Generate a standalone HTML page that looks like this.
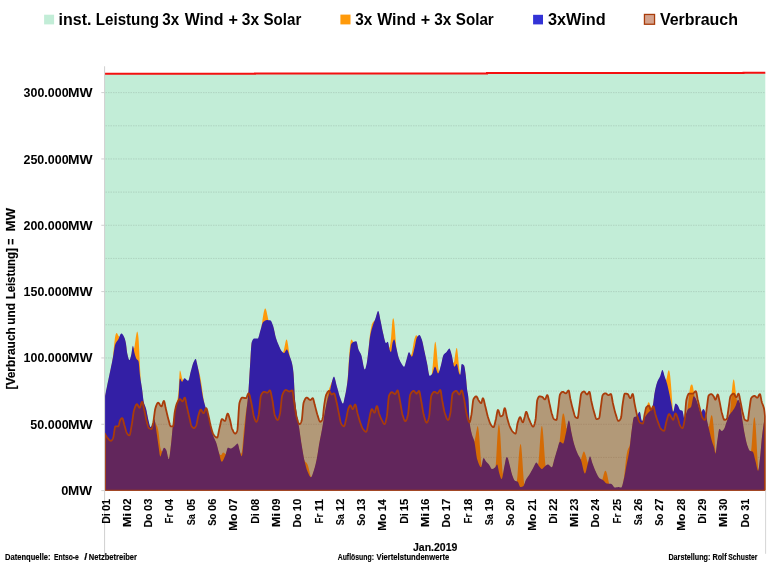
<!DOCTYPE html>
<html lang="de"><head><meta charset="utf-8"><title>Jan.2019 – 3x Wind + 3x Solar</title>
<style>html,body{margin:0;padding:0;background:#fff}body{width:771px;height:567px;overflow:hidden}svg{display:block}text{font-family:"Liberation Sans",Arial,sans-serif;font-weight:bold;fill:#000}</style></head><body>
<svg width="771" height="567" viewBox="0 0 771 567">
<rect width="771" height="567" fill="#fff"/>
<polygon fill="#c2edd7" points="105,490.6 105,73.8 255,73.8 255,73.5 487,73.5 487,73.1 743.5,73.1 743.5,72.7 765.3,72.7 765.3,490.6"/>
<line x1="105.5" x2="765" y1="457.44" y2="457.44" stroke="#6f8078" stroke-opacity="0.26" stroke-width="0.9" stroke-dasharray="1.5 1"/>
<line x1="105.5" x2="765" y1="424.27" y2="424.27" stroke="#6f8078" stroke-opacity="0.26" stroke-width="0.9" stroke-dasharray="1.5 1"/>
<line x1="105.5" x2="765" y1="391.11" y2="391.11" stroke="#6f8078" stroke-opacity="0.26" stroke-width="0.9" stroke-dasharray="1.5 1"/>
<line x1="105.5" x2="765" y1="357.94" y2="357.94" stroke="#6f8078" stroke-opacity="0.26" stroke-width="0.9" stroke-dasharray="1.5 1"/>
<line x1="105.5" x2="765" y1="324.78" y2="324.78" stroke="#6f8078" stroke-opacity="0.26" stroke-width="0.9" stroke-dasharray="1.5 1"/>
<line x1="105.5" x2="765" y1="291.61" y2="291.61" stroke="#6f8078" stroke-opacity="0.26" stroke-width="0.9" stroke-dasharray="1.5 1"/>
<line x1="105.5" x2="765" y1="258.45" y2="258.45" stroke="#6f8078" stroke-opacity="0.26" stroke-width="0.9" stroke-dasharray="1.5 1"/>
<line x1="105.5" x2="765" y1="225.28" y2="225.28" stroke="#6f8078" stroke-opacity="0.26" stroke-width="0.9" stroke-dasharray="1.5 1"/>
<line x1="105.5" x2="765" y1="192.12" y2="192.12" stroke="#6f8078" stroke-opacity="0.26" stroke-width="0.9" stroke-dasharray="1.5 1"/>
<line x1="105.5" x2="765" y1="158.95" y2="158.95" stroke="#6f8078" stroke-opacity="0.26" stroke-width="0.9" stroke-dasharray="1.5 1"/>
<line x1="105.5" x2="765" y1="125.79" y2="125.79" stroke="#6f8078" stroke-opacity="0.26" stroke-width="0.9" stroke-dasharray="1.5 1"/>
<line x1="105.5" x2="765" y1="92.62" y2="92.62" stroke="#6f8078" stroke-opacity="0.26" stroke-width="0.9" stroke-dasharray="1.5 1"/>
<polygon fill="#ff9a0a" points="105.00,490.6 105.00,396.90 105.25,395.67 105.50,394.45 105.75,393.22 106.00,392.00 106.25,390.77 106.50,389.55 106.75,388.33 107.00,387.11 107.25,385.90 107.50,384.70 107.75,383.50 108.00,382.30 108.25,381.11 108.50,379.92 108.75,378.73 109.00,377.55 109.25,376.36 109.50,375.17 109.75,373.98 110.00,372.79 110.25,371.60 110.50,370.40 110.75,369.19 111.00,367.98 111.25,366.76 111.50,365.53 111.75,364.30 112.00,363.05 112.25,361.66 112.50,359.99 112.75,358.14 113.00,356.04 113.25,353.73 113.50,351.27 113.75,348.75 114.00,346.23 114.25,343.79 114.50,341.49 114.75,339.41 115.00,337.60 115.25,336.13 115.50,335.04 115.75,334.22 116.00,333.63 116.25,333.25 116.50,333.08 116.75,333.09 117.00,333.27 117.25,333.58 117.50,334.00 117.75,334.49 118.00,335.02 118.25,335.53 118.50,335.98 118.75,336.33 119.00,336.59 119.25,336.72 119.50,336.72 119.75,336.57 120.00,336.23 120.25,335.71 120.50,335.24 120.75,334.86 121.00,334.58 121.25,334.43 121.50,334.41 121.75,334.49 122.00,334.65 122.25,334.87 122.50,335.16 122.75,335.49 123.00,335.85 123.25,336.24 123.50,336.64 123.75,337.06 124.00,337.55 124.25,338.12 124.50,338.78 124.75,339.52 125.00,340.34 125.25,341.24 125.50,342.22 125.75,343.28 126.00,344.63 126.25,346.54 126.50,348.73 126.75,350.94 127.00,352.86 127.25,354.23 127.50,355.37 127.75,356.49 128.00,357.55 128.25,358.52 128.50,359.37 128.75,360.07 129.00,360.57 129.25,360.85 129.50,360.87 129.75,360.60 130.00,360.07 130.25,359.35 130.50,358.49 130.75,357.54 131.00,356.56 131.25,355.60 131.50,354.29 131.75,352.62 132.00,350.82 132.25,349.10 132.50,347.71 132.75,346.86 133.00,346.76 133.25,347.38 133.50,348.22 133.75,348.60 134.00,348.54 134.25,347.96 134.50,346.78 134.75,345.15 135.00,343.37 135.25,341.52 135.50,339.66 135.75,337.86 136.00,336.19 136.25,334.68 136.50,333.40 136.75,332.41 137.00,331.80 137.25,331.61 137.50,331.89 137.75,332.67 138.00,333.96 138.25,335.77 138.50,338.08 138.75,341.46 139.00,346.14 139.25,351.61 139.50,357.36 139.75,362.85 140.00,367.63 140.25,371.95 140.50,375.88 140.75,379.36 141.00,382.32 141.25,384.65 141.50,386.26 141.75,387.83 142.00,389.49 142.25,391.27 142.50,393.36 142.75,395.64 143.00,397.93 143.25,400.02 143.50,401.69 143.75,402.85 144.00,403.79 144.25,404.60 144.50,405.30 144.75,405.94 145.00,406.54 145.25,407.16 145.50,407.81 145.75,408.55 146.00,409.40 146.25,410.40 146.50,411.52 146.75,412.74 147.00,414.03 147.25,415.35 147.50,416.68 147.75,417.97 148.00,419.22 148.25,420.37 148.50,421.40 148.75,422.42 149.00,423.50 149.25,424.58 149.50,425.61 149.75,426.52 150.00,427.25 150.25,427.73 150.50,427.90 150.75,427.83 151.00,427.62 151.25,427.30 151.50,426.90 151.75,426.44 152.00,425.93 152.25,425.41 152.50,424.90 152.75,424.24 153.00,423.36 153.25,422.37 153.50,421.41 153.75,420.59 154.00,420.05 154.25,419.91 154.50,420.29 154.75,421.06 155.00,421.81 155.25,422.57 155.50,423.31 155.75,423.98 156.00,424.57 156.25,425.01 156.50,425.28 156.75,425.52 157.00,425.92 157.25,426.50 157.50,427.25 157.75,428.17 158.00,429.27 158.25,430.53 158.50,431.93 158.75,433.66 159.00,435.81 159.25,438.23 159.50,440.73 159.75,443.16 160.00,445.33 160.25,447.05 160.50,448.26 160.75,449.19 161.00,449.91 161.25,450.45 161.50,450.87 161.75,451.22 162.00,451.54 162.25,451.71 162.50,451.54 162.75,450.97 163.00,450.32 163.25,449.74 163.50,449.25 163.75,448.90 164.00,448.72 164.25,448.72 164.50,448.80 164.75,448.96 165.00,449.19 165.25,449.46 165.50,449.77 165.75,450.12 166.00,450.49 166.25,450.89 166.50,451.53 166.75,452.46 167.00,453.60 167.25,454.85 167.50,456.14 167.75,457.37 168.00,458.46 168.25,459.32 168.50,459.86 168.75,459.99 169.00,459.60 169.25,458.72 169.50,457.42 169.75,455.79 170.00,453.90 170.25,451.83 170.50,449.66 170.75,447.46 171.00,445.32 171.25,443.19 171.50,440.68 171.75,437.91 172.00,435.06 172.25,432.29 172.50,429.79 172.75,427.63 173.00,425.57 173.25,423.58 173.50,421.66 173.75,419.84 174.00,418.11 174.25,416.50 174.50,415.01 174.75,413.65 175.00,412.44 175.25,411.33 175.50,410.32 175.75,409.38 176.00,408.45 176.25,407.32 176.50,406.01 176.75,404.53 177.00,402.90 177.25,401.13 177.50,399.36 177.75,397.60 178.00,395.75 178.25,393.72 178.50,391.28 178.75,387.42 179.00,382.61 179.25,377.71 179.50,373.52 179.75,370.89 180.00,370.43 180.25,370.75 180.50,371.40 180.75,372.29 181.00,373.37 181.25,374.56 181.50,375.77 181.75,376.94 182.00,377.97 182.25,378.79 182.50,379.37 182.75,379.75 183.00,379.95 183.25,380.00 183.50,379.91 183.75,379.71 184.00,379.39 184.25,379.14 184.50,379.11 184.75,379.16 185.00,379.28 185.25,379.44 185.50,379.63 185.75,379.86 186.00,380.10 186.25,380.35 186.50,380.60 186.75,380.84 187.00,381.07 187.25,381.26 187.50,381.42 187.75,381.54 188.00,381.59 188.25,381.54 188.50,381.22 188.75,380.63 189.00,379.85 189.25,378.90 189.50,377.84 189.75,376.70 190.00,375.54 190.25,374.41 190.50,373.33 190.75,372.37 191.00,371.50 191.25,370.58 191.50,369.64 191.75,368.69 192.00,367.74 192.25,366.82 192.50,365.93 192.75,365.10 193.00,364.34 193.25,363.67 193.50,363.10 193.75,362.58 194.00,362.05 194.25,361.54 194.50,361.06 194.75,360.64 195.00,360.28 195.25,360.01 195.50,359.84 195.75,359.81 196.00,360.20 196.25,361.01 196.50,362.09 196.75,363.30 197.00,364.47 197.25,365.52 197.50,366.47 197.75,367.35 198.00,368.20 198.25,369.02 198.50,369.84 198.75,370.66 199.00,371.51 199.25,372.43 199.50,373.45 199.75,374.57 200.00,375.76 200.25,377.03 200.50,378.36 200.75,379.73 201.00,381.17 201.25,382.75 201.50,384.43 201.75,386.21 202.00,388.04 202.25,389.90 202.50,391.75 202.75,393.55 203.00,395.27 203.25,396.89 203.50,398.45 203.75,399.95 204.00,401.37 204.25,402.71 204.50,403.96 204.75,405.11 205.00,406.15 205.25,407.04 205.50,407.83 205.75,408.56 206.00,409.25 206.25,409.90 206.50,410.53 206.75,411.15 207.00,411.78 207.25,412.42 207.50,413.08 207.75,413.79 208.00,414.55 208.25,415.37 208.50,416.28 208.75,417.33 209.00,418.51 209.25,419.80 209.50,421.15 209.75,422.54 210.00,423.94 210.25,425.30 210.50,426.61 210.75,427.82 211.00,428.90 211.25,429.89 211.50,430.86 211.75,431.79 212.00,432.69 212.25,433.55 212.50,434.39 212.75,435.19 213.00,435.96 213.25,436.70 213.50,437.40 213.75,438.06 214.00,438.66 214.25,439.22 214.50,439.75 214.75,440.27 215.00,440.78 215.25,441.31 215.50,441.85 215.75,442.43 216.00,443.06 216.25,443.74 216.50,444.51 216.75,445.34 217.00,446.24 217.25,447.17 217.50,448.14 217.75,449.13 218.00,450.12 218.25,451.10 218.50,452.05 218.75,452.80 219.00,453.29 219.25,453.71 219.50,454.08 219.75,454.41 220.00,454.68 220.25,454.89 220.50,455.03 220.75,455.08 221.00,455.04 221.25,454.90 221.50,454.64 221.75,454.24 222.00,453.81 222.25,453.43 222.50,453.11 222.75,452.86 223.00,452.68 223.25,452.59 223.50,452.58 223.75,452.64 224.00,452.77 224.25,452.95 224.50,453.17 224.75,453.42 225.00,453.67 225.25,453.91 225.50,454.05 225.75,453.95 226.00,453.62 226.25,453.07 226.50,452.28 226.75,451.34 227.00,450.47 227.25,449.72 227.50,449.13 227.75,448.74 228.00,448.60 228.25,448.62 228.50,448.67 228.75,448.75 229.00,448.85 229.25,448.96 229.50,449.07 229.75,449.17 230.00,449.27 230.25,449.34 230.50,449.39 230.75,449.40 231.00,449.37 231.25,449.32 231.50,449.23 231.75,449.12 232.00,448.98 232.25,448.83 232.50,448.66 232.75,448.47 233.00,448.28 233.25,448.08 233.50,447.88 233.75,447.68 234.00,447.49 234.25,447.31 234.50,447.13 234.75,446.92 235.00,446.69 235.25,446.43 235.50,446.16 235.75,445.89 236.00,445.62 236.25,445.36 236.50,445.12 236.75,444.91 237.00,444.73 237.25,444.60 237.50,444.52 237.75,444.51 238.00,444.84 238.25,445.56 238.50,446.54 238.75,447.68 239.00,448.86 239.25,449.97 239.50,450.90 239.75,451.75 240.00,452.55 240.25,453.14 240.50,453.56 240.75,453.78 241.00,453.79 241.25,453.56 241.50,453.08 241.75,452.31 242.00,450.93 242.25,448.88 242.50,446.32 242.75,443.40 243.00,440.27 243.25,437.06 243.50,433.91 243.75,430.96 244.00,428.34 244.25,426.08 244.50,423.84 244.75,421.61 245.00,419.43 245.25,417.31 245.50,415.27 245.75,413.32 246.00,411.48 246.25,409.76 246.50,408.19 246.75,406.75 247.00,405.34 247.25,403.82 247.50,402.08 247.75,399.98 248.00,397.42 248.25,394.48 248.50,391.04 248.75,387.21 249.00,383.14 249.25,378.95 249.50,374.78 249.75,370.77 250.00,366.97 250.25,362.80 250.50,358.36 250.75,353.96 251.00,349.92 251.25,346.54 251.50,344.13 251.75,342.96 252.00,342.30 252.25,341.70 252.50,341.16 252.75,340.70 253.00,340.31 253.25,339.99 253.50,339.75 253.75,339.58 254.00,339.51 254.25,339.50 254.50,339.50 254.75,339.50 255.00,339.50 255.25,339.50 255.50,339.50 255.75,339.50 256.00,339.50 256.25,339.50 256.50,339.50 256.75,339.50 257.00,339.50 257.25,339.50 257.50,339.50 257.75,339.49 258.00,339.31 258.25,338.89 258.50,338.27 258.75,337.50 259.00,336.61 259.25,335.65 259.50,334.64 259.75,333.63 260.00,332.67 260.25,331.78 260.50,330.99 260.75,330.16 261.00,329.27 261.25,328.21 261.50,326.81 261.75,325.18 262.00,323.42 262.25,321.59 262.50,319.76 262.75,318.00 263.00,316.38 263.25,314.92 263.50,313.55 263.75,312.29 264.00,311.16 264.25,310.21 264.50,309.45 264.75,308.90 265.00,308.57 265.25,308.47 265.50,308.60 265.75,308.96 266.00,309.52 266.25,310.27 266.50,311.20 266.75,312.26 267.00,313.42 267.25,314.63 267.50,315.85 267.75,317.05 268.00,318.17 268.25,319.18 268.50,320.04 268.75,320.69 269.00,321.08 269.25,321.14 269.50,321.17 269.75,321.20 270.00,321.24 270.25,321.28 270.50,321.33 270.75,321.49 271.00,321.77 271.25,322.16 271.50,322.63 271.75,323.18 272.00,323.79 272.25,324.44 272.50,325.13 272.75,325.83 273.00,326.52 273.25,327.24 273.50,328.10 273.75,329.08 274.00,330.17 274.25,331.32 274.50,332.52 274.75,333.72 275.00,334.91 275.25,336.05 275.50,337.12 275.75,338.08 276.00,338.92 276.25,339.71 276.50,340.45 276.75,341.17 277.00,341.86 277.25,342.53 277.50,343.17 277.75,343.79 278.00,344.40 278.25,344.99 278.50,345.57 278.75,346.15 279.00,346.73 279.25,347.31 279.50,347.90 279.75,348.47 280.00,349.03 280.25,349.57 280.50,350.09 280.75,350.58 281.00,351.03 281.25,351.45 281.50,351.82 281.75,352.14 282.00,352.43 282.25,352.72 282.50,352.93 282.75,352.83 283.00,352.49 283.25,351.95 283.50,351.24 283.75,350.39 284.00,349.41 284.25,348.30 284.50,347.06 284.75,345.76 285.00,344.45 285.25,343.20 285.50,342.06 285.75,341.08 286.00,340.31 286.25,339.78 286.50,339.54 286.75,339.61 287.00,340.03 287.25,340.79 287.50,341.85 287.75,343.17 288.00,344.69 288.25,346.37 288.50,348.14 288.75,349.95 289.00,351.73 289.25,353.44 289.50,354.99 289.75,356.37 290.00,357.57 290.25,358.55 290.50,359.25 290.75,359.92 291.00,360.62 291.25,361.37 291.50,362.18 291.75,363.07 292.00,364.05 292.25,365.13 292.50,366.39 292.75,367.88 293.00,369.63 293.25,371.66 293.50,374.00 293.75,377.35 294.00,381.97 294.25,387.19 294.50,392.37 294.75,396.83 295.00,400.06 295.25,402.74 295.50,405.17 295.75,407.37 296.00,409.40 296.25,411.29 296.50,413.10 296.75,414.85 297.00,416.48 297.25,418.00 297.50,419.42 297.75,420.78 298.00,422.12 298.25,423.46 298.50,424.83 298.75,426.28 299.00,427.83 299.25,429.47 299.50,431.18 299.75,432.93 300.00,434.71 300.25,436.50 300.50,438.27 300.75,440.01 301.00,441.69 301.25,443.29 301.50,444.83 301.75,446.37 302.00,447.91 302.25,449.43 302.50,450.94 302.75,452.42 303.00,453.88 303.25,455.31 303.50,456.70 303.75,458.01 304.00,459.07 304.25,459.91 304.50,460.57 304.75,461.07 305.00,461.43 305.25,461.71 305.50,461.95 305.75,462.17 306.00,462.38 306.25,462.61 306.50,462.86 306.75,463.16 307.00,463.51 307.25,463.92 307.50,464.40 307.75,464.95 308.00,465.64 308.25,466.46 308.50,467.40 308.75,468.43 309.00,469.53 309.25,470.68 309.50,471.84 309.75,472.99 310.00,474.08 310.25,475.10 310.50,476.00 310.75,476.74 311.00,477.30 311.25,477.59 311.50,477.59 311.75,477.26 312.00,476.75 312.25,476.15 312.50,475.47 312.75,474.74 313.00,473.96 313.25,473.16 313.50,472.36 313.75,471.57 314.00,470.80 314.25,470.02 314.50,469.19 314.75,468.30 315.00,467.36 315.25,466.38 315.50,465.35 315.75,464.28 316.00,463.17 316.25,462.03 316.50,460.86 316.75,459.66 317.00,458.36 317.25,456.96 317.50,455.47 317.75,453.92 318.00,452.33 318.25,450.71 318.50,449.10 318.75,447.50 319.00,445.95 319.25,444.46 319.50,443.04 319.75,441.69 320.00,440.37 320.25,439.08 320.50,437.81 320.75,436.55 321.00,435.29 321.25,434.03 321.50,432.75 321.75,431.44 322.00,430.10 322.25,428.72 322.50,427.27 322.75,425.77 323.00,424.22 323.25,422.65 323.50,421.06 323.75,419.48 324.00,417.92 324.25,416.40 324.50,414.92 324.75,413.51 325.00,412.16 325.25,410.71 325.50,409.14 325.75,407.50 326.00,405.82 326.25,404.10 326.50,402.38 326.75,400.69 327.00,399.03 327.25,397.43 327.50,395.91 327.75,394.49 328.00,393.21 328.25,392.05 328.50,391.01 328.75,390.07 329.00,389.24 329.25,388.48 329.50,387.78 329.75,387.09 330.00,386.41 330.25,385.73 330.50,385.07 330.75,384.42 331.00,383.79 331.25,383.18 331.50,382.57 331.75,381.98 332.00,381.39 332.25,380.81 332.50,380.22 332.75,379.62 333.00,378.99 333.25,378.41 333.50,377.97 333.75,377.69 334.00,377.60 334.25,377.75 334.50,378.17 334.75,378.81 335.00,379.63 335.25,380.60 335.50,381.65 335.75,382.76 336.00,383.88 336.25,384.97 336.50,385.98 336.75,386.87 337.00,387.73 337.25,388.62 337.50,389.52 337.75,390.44 338.00,391.35 338.25,392.27 338.50,393.18 338.75,394.07 339.00,394.94 339.25,395.78 339.50,396.60 339.75,397.37 340.00,398.10 340.25,398.77 340.50,399.42 340.75,400.11 341.00,400.81 341.25,401.51 341.50,402.18 341.75,402.80 342.00,403.36 342.25,403.83 342.50,404.19 342.75,404.42 343.00,404.50 343.25,404.24 343.50,403.54 343.75,402.53 344.00,401.33 344.25,400.08 344.50,398.90 344.75,397.79 345.00,396.67 345.25,395.53 345.50,394.34 345.75,393.10 346.00,391.80 346.25,390.43 346.50,388.84 346.75,387.02 347.00,384.98 347.25,382.75 347.50,380.32 347.75,377.57 348.00,374.07 348.25,370.03 348.50,365.71 348.75,361.40 349.00,357.36 349.25,353.87 349.50,351.10 349.75,348.53 350.00,346.11 350.25,343.93 350.50,342.10 350.75,340.70 351.00,339.84 351.25,339.60 351.50,339.64 351.75,339.79 352.00,340.03 352.25,340.33 352.50,340.69 352.75,341.06 353.00,341.45 353.25,341.81 353.50,342.13 353.75,342.39 354.00,342.56 354.25,342.59 354.50,342.51 354.75,342.44 355.00,342.38 355.25,342.32 355.50,342.27 355.75,342.23 356.00,342.21 356.25,342.20 356.50,342.35 356.75,342.90 357.00,343.76 357.25,344.85 357.50,346.08 357.75,347.33 358.00,348.54 358.25,349.59 358.50,350.40 358.75,351.02 359.00,351.56 359.25,352.05 359.50,352.50 359.75,352.93 360.00,353.35 360.25,353.78 360.50,354.24 360.75,354.74 361.00,355.30 361.25,355.94 361.50,356.75 361.75,357.75 362.00,358.90 362.25,360.17 362.50,361.50 362.75,362.87 363.00,364.23 363.25,365.55 363.50,366.78 363.75,367.89 364.00,368.83 364.25,369.58 364.50,370.07 364.75,370.29 365.00,370.20 365.25,369.82 365.50,369.20 365.75,368.39 366.00,367.44 366.25,366.41 366.50,365.33 366.75,364.18 367.00,362.70 367.25,360.93 367.50,358.94 367.75,356.74 368.00,354.35 368.25,351.90 368.50,349.47 368.75,346.94 369.00,344.23 369.25,341.47 369.50,338.80 369.75,336.36 370.00,334.29 370.25,332.53 370.50,330.92 370.75,329.46 371.00,328.15 371.25,326.98 371.50,325.95 371.75,325.06 372.00,324.28 372.25,323.62 372.50,323.05 372.75,322.56 373.00,322.16 373.25,321.84 373.50,321.59 373.75,321.38 374.00,321.20 374.25,321.01 374.50,320.80 374.75,320.54 375.00,320.21 375.25,319.79 375.50,319.22 375.75,318.45 376.00,317.60 376.25,316.71 376.50,315.80 376.75,314.92 377.00,314.10 377.25,313.35 377.50,312.73 377.75,312.26 378.00,311.97 378.25,311.91 378.50,312.19 378.75,312.81 379.00,313.71 379.25,314.83 379.50,316.10 379.75,317.44 380.00,318.80 380.25,320.11 380.50,321.30 380.75,322.45 381.00,323.66 381.25,324.92 381.50,326.21 381.75,327.52 382.00,328.81 382.25,330.08 382.50,331.32 382.75,332.49 383.00,333.59 383.25,334.62 383.50,335.72 383.75,336.87 384.00,338.03 384.25,339.17 384.50,340.26 384.75,341.27 385.00,342.17 385.25,342.92 385.50,343.50 385.75,343.87 386.00,344.00 386.25,343.93 386.50,343.75 386.75,343.51 387.00,343.24 387.25,342.99 387.50,342.80 387.75,342.70 388.00,342.91 388.25,343.67 388.50,344.83 388.75,346.22 389.00,347.40 389.25,347.86 389.50,347.59 389.75,346.65 390.00,345.43 390.25,343.97 390.50,342.28 390.75,340.35 391.00,338.13 391.25,335.27 391.50,331.97 391.75,328.52 392.00,325.22 392.25,322.35 392.50,320.19 392.75,318.98 393.00,318.41 393.25,318.27 393.50,318.58 393.75,319.36 394.00,320.62 394.25,322.34 394.50,324.63 394.75,327.44 395.00,330.61 395.25,334.00 395.50,337.44 395.75,340.78 396.00,343.87 396.25,346.54 396.50,348.72 396.75,350.46 397.00,351.63 397.25,352.76 397.50,353.89 397.75,354.99 398.00,356.03 398.25,357.01 398.50,357.88 398.75,358.64 399.00,359.34 399.25,359.99 399.50,360.61 399.75,361.20 400.00,361.76 400.25,362.28 400.50,362.77 400.75,363.24 401.00,363.67 401.25,364.08 401.50,364.49 401.75,364.92 402.00,365.34 402.25,365.76 402.50,366.15 402.75,366.52 403.00,366.85 403.25,367.13 403.50,367.36 403.75,367.51 404.00,367.59 404.25,367.54 404.50,367.23 404.75,366.67 405.00,365.94 405.25,365.08 405.50,364.15 405.75,363.20 406.00,362.28 406.25,361.45 406.50,360.67 406.75,359.77 407.00,358.80 407.25,357.79 407.50,356.79 407.75,355.83 408.00,354.95 408.25,354.20 408.50,353.62 408.75,353.24 409.00,353.10 409.25,353.20 409.50,353.48 409.75,353.90 410.00,354.41 410.25,354.92 410.50,355.18 410.75,355.24 411.00,355.09 411.25,354.74 411.50,354.17 411.75,353.39 412.00,352.37 412.25,351.11 412.50,349.67 412.75,348.11 413.00,346.51 413.25,344.91 413.50,343.37 413.75,341.95 414.00,340.68 414.25,339.62 414.50,338.80 414.75,338.09 415.00,337.38 415.25,336.71 415.50,336.12 415.75,335.65 416.00,335.33 416.25,335.18 416.50,335.23 416.75,335.52 417.00,335.96 417.25,336.33 417.50,336.62 417.75,336.78 418.00,336.77 418.25,336.54 418.50,336.30 418.75,336.11 419.00,335.98 419.25,335.91 419.50,335.91 419.75,336.05 420.00,336.31 420.25,336.69 420.50,337.16 420.75,337.70 421.00,338.31 421.25,338.95 421.50,339.61 421.75,340.27 422.00,340.97 422.25,341.80 422.50,342.76 422.75,343.81 423.00,344.94 423.25,346.13 423.50,347.35 423.75,348.59 424.00,349.83 424.25,351.04 424.50,352.20 424.75,353.34 425.00,354.49 425.25,355.64 425.50,356.81 425.75,357.98 426.00,359.17 426.25,360.35 426.50,361.54 426.75,362.74 427.00,363.94 427.25,365.15 427.50,366.51 427.75,368.05 428.00,369.67 428.25,371.30 428.50,372.85 428.75,374.24 429.00,375.40 429.25,376.23 429.50,376.66 429.75,376.69 430.00,376.64 430.25,376.54 430.50,376.40 430.75,376.22 431.00,376.02 431.25,375.79 431.50,375.44 431.75,374.40 432.00,372.82 432.25,370.79 432.50,368.28 432.75,365.38 433.00,362.22 433.25,358.93 433.50,355.64 433.75,352.47 434.00,349.53 434.25,346.93 434.50,344.77 434.75,343.15 435.00,342.14 435.25,341.80 435.50,342.10 435.75,343.00 436.00,344.45 436.25,346.38 436.50,348.72 436.75,351.37 437.00,354.23 437.25,357.21 437.50,360.19 437.75,363.04 438.00,365.66 438.25,367.91 438.50,369.73 438.75,371.08 439.00,371.88 439.25,372.06 439.50,371.45 439.75,370.55 440.00,369.62 440.25,368.67 440.50,367.75 440.75,366.87 441.00,365.98 441.25,364.95 441.50,363.82 441.75,362.62 442.00,361.39 442.25,360.18 442.50,359.02 442.75,357.97 443.00,357.05 443.25,356.32 443.50,355.80 443.75,355.44 444.00,355.12 444.25,354.85 444.50,354.61 444.75,354.39 445.00,354.19 445.25,354.00 445.50,353.81 445.75,353.61 446.00,353.39 446.25,353.15 446.50,352.87 446.75,352.55 447.00,352.19 447.25,351.81 447.50,351.43 447.75,351.04 448.00,350.67 448.25,350.34 448.50,350.04 448.75,349.80 449.00,349.62 449.25,349.52 449.50,349.52 449.75,349.74 450.00,350.18 450.25,350.78 450.50,351.53 450.75,352.37 451.00,353.27 451.25,354.20 451.50,355.11 451.75,355.97 452.00,357.00 452.25,358.24 452.50,359.62 452.75,361.05 453.00,362.07 453.25,362.67 453.50,362.86 453.75,362.63 454.00,361.98 454.25,360.89 454.50,359.36 454.75,357.64 455.00,355.85 455.25,354.08 455.50,352.40 455.75,350.90 456.00,349.64 456.25,348.69 456.50,348.10 456.75,347.91 457.00,348.29 457.25,349.42 457.50,351.18 457.75,353.43 458.00,356.01 458.25,358.78 458.50,361.56 458.75,364.21 459.00,366.54 459.25,368.64 459.50,370.65 459.75,372.45 460.00,373.92 460.25,374.91 460.50,374.46 460.75,372.48 461.00,369.81 461.25,367.25 461.50,365.43 461.75,364.90 462.00,364.93 462.25,364.98 462.50,365.08 462.75,365.20 463.00,365.36 463.25,365.55 463.50,365.76 463.75,366.01 464.00,366.28 464.25,366.68 464.50,367.57 464.75,368.88 465.00,370.51 465.25,372.34 465.50,374.27 465.75,376.19 466.00,378.50 466.25,381.23 466.50,384.12 466.75,386.94 467.00,389.44 467.25,391.41 467.50,392.92 467.75,394.25 468.00,395.69 468.25,397.51 468.50,400.20 468.75,405.30 469.00,411.74 469.25,417.80 469.50,421.80 469.75,424.05 470.00,426.00 470.25,427.69 470.50,429.16 470.75,430.46 471.00,431.62 471.25,432.68 471.50,433.70 471.75,434.70 472.00,435.61 472.25,436.42 472.50,437.14 472.75,437.81 473.00,438.44 473.25,439.08 473.50,439.73 473.75,440.44 474.00,441.21 474.25,441.32 474.50,440.75 474.75,439.87 475.00,438.78 475.25,437.53 475.50,436.16 475.75,434.74 476.00,433.28 476.25,431.85 476.50,430.46 476.75,429.14 477.00,427.91 477.25,426.85 477.50,426.25 477.75,426.19 478.00,426.69 478.25,427.76 478.50,429.37 478.75,431.49 479.00,434.08 479.25,437.06 479.50,440.37 479.75,443.90 480.00,447.57 480.25,451.26 480.50,454.85 480.75,458.23 481.00,461.28 481.25,463.79 481.50,465.33 481.75,465.85 482.00,465.22 482.25,463.83 482.50,462.42 482.75,461.11 483.00,460.02 483.25,459.28 483.50,459.00 483.75,459.06 484.00,459.24 484.25,459.50 484.50,459.84 484.75,460.24 485.00,460.67 485.25,461.11 485.50,461.55 485.75,461.97 486.00,462.34 486.25,462.66 486.50,462.94 486.75,463.20 487.00,463.45 487.25,463.70 487.50,463.94 487.75,464.18 488.00,464.43 488.25,464.68 488.50,464.94 488.75,465.22 489.00,465.53 489.25,465.89 489.50,466.31 489.75,466.77 490.00,467.25 490.25,467.74 490.50,468.21 490.75,468.66 491.00,469.06 491.25,469.40 491.50,469.67 491.75,469.84 492.00,469.90 492.25,469.89 492.50,469.84 492.75,469.77 493.00,469.68 493.25,469.57 493.50,469.43 493.75,469.28 494.00,469.12 494.25,468.94 494.50,468.75 494.75,468.55 495.00,468.35 495.25,468.14 495.50,467.06 495.75,464.63 496.00,461.26 496.25,457.21 496.50,452.70 496.75,447.96 497.00,443.20 497.25,438.69 497.50,434.74 497.75,431.42 498.00,428.75 498.25,426.76 498.50,425.44 498.75,424.78 499.00,424.74 499.25,425.24 499.50,426.36 499.75,428.29 500.00,430.98 500.25,434.35 500.50,438.29 500.75,442.66 501.00,447.33 501.25,452.13 501.50,456.89 501.75,461.41 502.00,465.41 502.25,468.77 502.50,471.39 502.75,473.17 503.00,473.98 503.25,473.58 503.50,472.08 503.75,470.59 504.00,469.17 504.25,467.89 504.50,466.75 504.75,465.51 505.00,464.17 505.25,462.79 505.50,461.46 505.75,460.26 506.00,459.25 506.25,458.52 506.50,458.14 506.75,458.10 507.00,458.10 507.25,458.11 507.50,458.32 507.75,458.81 508.00,459.51 508.25,460.37 508.50,461.35 508.75,462.40 509.00,463.45 509.25,464.47 509.50,465.40 509.75,466.31 510.00,467.29 510.25,468.31 510.50,469.37 510.75,470.44 511.00,471.51 511.25,472.55 511.50,473.54 511.75,474.47 512.00,475.32 512.25,476.06 512.50,476.73 512.75,477.40 513.00,478.06 513.25,478.70 513.50,479.31 513.75,479.88 514.00,480.39 514.25,480.84 514.50,481.21 514.75,481.51 515.00,481.70 515.25,481.83 515.50,481.93 515.75,482.01 516.00,482.07 516.25,482.13 516.50,482.18 516.75,481.71 517.00,480.11 517.25,477.72 517.50,474.74 517.75,471.31 518.00,467.71 518.25,464.09 518.50,460.56 518.75,457.20 519.00,454.09 519.25,451.31 519.50,448.92 519.75,446.98 520.00,445.50 520.25,444.51 520.50,444.02 520.75,444.19 521.00,445.05 521.25,446.59 521.50,448.75 521.75,451.47 522.00,454.66 522.25,458.23 522.50,462.06 522.75,466.03 523.00,470.02 523.25,473.87 523.50,477.35 523.75,480.28 524.00,482.54 524.25,484.00 524.50,484.45 524.75,483.80 525.00,483.07 525.25,482.35 525.50,481.69 525.75,481.10 526.00,480.62 526.25,480.17 526.50,479.75 526.75,479.35 527.00,478.96 527.25,478.59 527.50,478.23 527.75,477.87 528.00,477.52 528.25,477.17 528.50,476.81 528.75,476.45 529.00,476.08 529.25,475.70 529.50,475.30 529.75,474.89 530.00,474.47 530.25,474.04 530.50,473.60 530.75,473.16 531.00,472.72 531.25,472.27 531.50,471.83 531.75,471.38 532.00,470.93 532.25,470.48 532.50,470.04 532.75,469.60 533.00,469.17 533.25,468.73 533.50,468.25 533.75,467.73 534.00,467.18 534.25,466.63 534.50,466.08 534.75,465.55 535.00,465.05 535.25,464.59 535.50,464.20 535.75,463.88 536.00,463.65 536.25,463.52 536.50,463.51 536.75,463.63 537.00,463.85 537.25,464.16 537.50,464.54 537.75,464.97 538.00,465.07 538.25,464.01 538.50,462.10 538.75,459.50 539.00,456.36 539.25,452.81 539.50,449.06 539.75,445.26 540.00,441.52 540.25,437.98 540.50,434.74 540.75,431.89 541.00,429.53 541.25,427.72 541.50,426.52 541.75,425.95 542.00,426.02 542.25,426.73 542.50,428.07 542.75,430.00 543.00,432.47 543.25,435.41 543.50,438.73 543.75,442.34 544.00,446.12 544.25,449.95 544.50,453.71 544.75,457.28 545.00,460.51 545.25,463.22 545.50,465.24 545.75,466.37 546.00,466.36 546.25,466.17 546.50,465.99 546.75,465.83 547.00,465.69 547.25,465.57 547.50,465.48 547.75,465.42 548.00,465.40 548.25,465.43 548.50,465.53 548.75,465.67 549.00,465.86 549.25,466.08 549.50,466.33 549.75,466.59 550.00,466.86 550.25,467.12 550.50,467.37 550.75,467.60 551.00,467.79 551.25,467.95 551.50,468.05 551.75,468.10 552.00,468.01 552.25,467.66 552.50,467.09 552.75,466.33 553.00,465.44 553.25,464.46 553.50,463.42 553.75,462.37 554.00,461.36 554.25,460.41 554.50,459.57 554.75,458.74 555.00,457.89 555.25,457.02 555.50,456.15 555.75,455.28 556.00,454.42 556.25,453.56 556.50,452.72 556.75,451.90 557.00,451.11 557.25,450.32 557.50,449.47 557.75,448.57 558.00,447.63 558.25,446.71 558.50,445.81 558.75,444.98 559.00,444.23 559.25,443.46 559.50,442.02 559.75,440.14 560.00,437.98 560.25,435.60 560.50,433.01 560.75,430.31 561.00,427.58 561.25,424.91 561.50,422.38 561.75,420.05 562.00,418.01 562.25,416.30 562.50,414.97 562.75,414.06 563.00,413.58 563.25,413.49 563.50,413.62 563.75,413.99 564.00,414.60 564.25,415.46 564.50,416.56 564.75,417.87 565.00,419.36 565.25,421.00 565.50,422.73 565.75,424.51 566.00,426.17 566.25,427.42 566.50,428.22 566.75,428.48 567.00,428.13 567.25,426.96 567.50,425.64 567.75,424.41 568.00,423.34 568.25,422.46 568.50,421.82 568.75,421.46 569.00,421.44 569.25,421.85 569.50,422.66 569.75,423.77 570.00,425.11 570.25,426.60 570.50,428.16 570.75,429.71 571.00,431.17 571.25,432.47 571.50,433.62 571.75,434.78 572.00,435.95 572.25,437.12 572.50,438.28 572.75,439.43 573.00,440.54 573.25,441.61 573.50,442.64 573.75,443.60 574.00,444.50 574.25,445.34 574.50,446.16 574.75,446.96 575.00,447.72 575.25,448.47 575.50,449.19 575.75,449.89 576.00,450.57 576.25,451.23 576.50,451.87 576.75,452.50 577.00,453.10 577.25,453.70 577.50,454.27 577.75,454.83 578.00,455.35 578.25,455.83 578.50,456.29 578.75,456.73 579.00,457.16 579.25,457.58 579.50,458.01 579.75,458.44 580.00,458.90 580.25,459.38 580.50,459.85 580.75,459.81 581.00,459.36 581.25,458.70 581.50,457.90 581.75,457.01 582.00,456.07 582.25,455.13 582.50,454.23 582.75,453.41 583.00,452.70 583.25,452.15 583.50,451.76 583.75,451.56 584.00,451.56 584.25,451.75 584.50,452.12 584.75,452.65 585.00,453.29 585.25,454.00 585.50,454.75 585.75,455.57 586.00,456.45 586.25,457.37 586.50,458.32 586.75,459.27 587.00,460.21 587.25,461.10 587.50,461.91 587.75,462.57 588.00,462.78 588.25,462.51 588.50,461.62 588.75,460.50 589.00,459.46 589.25,458.56 589.50,457.84 589.75,457.37 590.00,457.20 590.25,457.36 590.50,457.79 590.75,458.44 591.00,459.25 591.25,460.16 591.50,461.11 591.75,462.05 592.00,462.91 592.25,463.64 592.50,464.31 592.75,464.99 593.00,465.67 593.25,466.34 593.50,467.01 593.75,467.67 594.00,468.33 594.25,468.97 594.50,469.60 594.75,470.21 595.00,470.81 595.25,471.40 595.50,471.96 595.75,472.50 596.00,473.02 596.25,473.55 596.50,474.09 596.75,474.62 597.00,475.14 597.25,475.66 597.50,476.16 597.75,476.64 598.00,477.09 598.25,477.52 598.50,477.92 598.75,478.27 599.00,478.59 599.25,478.86 599.50,479.08 599.75,479.28 600.00,479.45 600.25,479.61 600.50,479.75 600.75,479.88 601.00,480.01 601.25,480.12 601.50,480.24 601.75,480.35 602.00,480.17 602.25,479.71 602.50,479.04 602.75,478.22 603.00,477.29 603.25,476.29 603.50,475.30 603.75,474.33 604.00,473.43 604.25,472.61 604.50,471.92 604.75,471.37 605.00,470.98 605.25,470.76 605.50,470.73 605.75,470.88 606.00,471.21 606.25,471.70 606.50,472.35 606.75,473.13 607.00,474.05 607.25,475.10 607.50,476.24 607.75,477.45 608.00,478.68 608.25,479.91 608.50,481.08 608.75,482.16 609.00,483.11 609.25,483.88 609.50,484.42 609.75,484.64 610.00,484.66 610.25,484.68 610.50,484.71 610.75,484.73 611.00,484.77 611.25,484.81 611.50,484.91 611.75,485.08 612.00,485.31 612.25,485.60 612.50,485.91 612.75,486.25 613.00,486.61 613.25,486.96 613.50,487.30 613.75,487.61 614.00,487.89 614.25,488.12 614.50,488.29 614.75,488.38 615.00,488.40 615.25,488.39 615.50,488.37 615.75,488.34 616.00,488.31 616.25,488.27 616.50,488.23 616.75,488.19 617.00,488.15 617.25,488.11 617.50,488.08 617.75,488.04 618.00,488.02 618.25,488.01 618.50,488.00 618.75,488.01 619.00,488.04 619.25,488.08 619.50,488.12 619.75,488.18 620.00,488.23 620.25,488.29 620.50,488.33 620.75,488.37 621.00,488.39 621.25,488.39 621.50,488.23 621.75,487.84 622.00,487.27 622.25,486.53 622.50,485.67 622.75,484.72 623.00,483.69 623.25,482.43 623.50,480.90 623.75,479.20 624.00,477.39 624.25,475.37 624.50,473.17 624.75,470.85 625.00,468.46 625.25,466.05 625.50,463.68 625.75,461.40 626.00,459.25 626.25,457.29 626.50,455.53 626.75,453.99 627.00,452.66 627.25,451.53 627.50,450.58 627.75,449.79 628.00,449.13 628.25,448.58 628.50,448.10 628.75,447.64 629.00,447.18 629.25,446.65 629.50,446.01 629.75,445.08 630.00,443.85 630.25,442.37 630.50,440.65 630.75,438.72 631.00,436.59 631.25,434.34 631.50,432.28 631.75,430.45 632.00,428.63 632.25,426.74 632.50,424.87 632.75,423.08 633.00,421.45 633.25,420.06 633.50,418.98 633.75,418.29 634.00,418.03 634.25,417.90 634.50,417.79 634.75,417.71 635.00,417.64 635.25,417.59 635.50,417.53 635.75,417.46 636.00,417.38 636.25,417.28 636.50,417.14 636.75,416.90 637.00,416.58 637.25,416.18 637.50,415.74 637.75,415.26 638.00,414.77 638.25,414.28 638.50,413.83 638.75,413.42 639.00,413.07 639.25,412.80 639.50,412.64 639.75,412.61 640.00,413.06 640.25,414.02 640.50,415.33 640.75,416.84 641.00,418.38 641.25,419.79 641.50,420.91 641.75,421.58 642.00,421.69 642.25,421.62 642.50,421.48 642.75,421.29 643.00,421.07 643.25,420.84 643.50,420.59 643.75,420.26 644.00,419.87 644.25,419.43 644.50,418.83 644.75,417.93 645.00,416.84 645.25,415.63 645.50,414.34 645.75,413.00 646.00,411.62 646.25,410.24 646.50,408.88 646.75,407.59 647.00,406.39 647.25,405.31 647.50,404.36 647.75,403.58 648.00,402.98 648.25,402.56 648.50,402.34 648.75,402.32 649.00,402.50 649.25,402.84 649.50,403.34 649.75,403.95 650.00,404.65 650.25,405.39 650.50,406.15 650.75,406.88 651.00,407.53 651.25,408.07 651.50,408.43 651.75,408.60 652.00,408.50 652.25,408.10 652.50,407.34 652.75,406.48 653.00,405.38 653.25,403.82 653.50,401.94 653.75,399.88 654.00,397.80 654.25,395.84 654.50,394.16 654.75,392.82 655.00,391.57 655.25,390.36 655.50,389.21 655.75,388.11 656.00,387.08 656.25,386.10 656.50,385.18 656.75,384.33 657.00,383.55 657.25,382.83 657.50,382.19 657.75,381.62 658.00,381.10 658.25,380.62 658.50,380.17 658.75,379.74 659.00,379.32 659.25,378.89 659.50,378.43 659.75,377.95 660.00,377.43 660.25,376.82 660.50,376.07 660.75,375.21 661.00,374.29 661.25,373.39 661.50,372.55 661.75,371.82 662.00,371.27 662.25,370.96 662.50,370.93 662.75,371.19 663.00,371.70 663.25,372.40 663.50,373.24 663.75,374.16 664.00,375.11 664.25,376.04 664.50,376.89 664.75,377.64 665.00,378.36 665.25,379.07 665.50,379.79 665.75,380.30 666.00,380.20 666.25,379.66 666.50,378.80 666.75,377.71 667.00,376.48 667.25,375.20 667.50,373.95 667.75,372.78 668.00,371.77 668.25,370.96 668.50,370.41 668.75,370.15 669.00,370.23 669.25,370.67 669.50,371.53 669.75,372.82 670.00,374.52 670.25,376.61 670.50,379.06 670.75,381.80 671.00,384.80 671.25,387.99 671.50,391.38 671.75,395.04 672.00,398.79 672.25,402.41 672.50,405.72 672.75,408.50 673.00,410.57 673.25,411.72 673.50,411.91 673.75,411.14 674.00,410.04 674.25,408.80 674.50,407.55 674.75,406.38 675.00,405.41 675.25,404.75 675.50,404.50 675.75,404.53 676.00,404.62 676.25,404.76 676.50,404.95 676.75,405.16 677.00,405.41 677.25,405.68 677.50,405.96 677.75,406.24 678.00,406.58 678.25,407.06 678.50,407.65 678.75,408.29 679.00,408.95 679.25,409.57 679.50,410.12 679.75,410.54 680.00,410.80 680.25,410.94 680.50,411.04 680.75,411.12 681.00,411.19 681.25,411.24 681.50,411.31 681.75,411.38 682.00,411.48 682.25,411.60 682.50,411.82 682.75,412.49 683.00,413.58 683.25,414.95 683.50,416.44 683.75,417.91 684.00,419.22 684.25,420.21 684.50,420.75 684.75,420.62 685.00,419.68 685.25,418.27 685.50,416.78 685.75,415.57 686.00,414.78 686.25,414.03 686.50,413.31 686.75,412.64 687.00,411.90 687.25,410.60 687.50,408.91 687.75,406.94 688.00,404.78 688.25,402.50 688.50,400.17 688.75,397.83 689.00,395.55 689.25,393.39 689.50,391.40 689.75,389.62 690.00,388.09 690.25,386.86 690.50,385.92 690.75,385.31 691.00,384.99 691.25,384.73 691.50,384.52 691.75,384.42 692.00,384.49 692.25,384.75 692.50,385.24 692.75,385.98 693.00,386.99 693.25,388.28 693.50,389.85 693.75,391.71 694.00,393.60 694.25,395.31 694.50,396.75 694.75,397.81 695.00,398.29 695.25,398.64 695.50,399.00 695.75,399.41 696.00,399.93 696.25,400.53 696.50,401.20 696.75,401.92 697.00,402.68 697.25,403.46 697.50,404.24 697.75,405.01 698.00,405.74 698.25,406.44 698.50,407.18 698.75,408.01 699.00,408.89 699.25,409.77 699.50,410.64 699.75,411.45 700.00,412.17 700.25,412.77 700.50,413.21 700.75,413.46 701.00,413.48 701.25,413.29 701.50,412.94 701.75,412.47 702.00,411.92 702.25,411.36 702.50,410.83 702.75,410.38 703.00,410.05 703.25,409.90 703.50,409.94 703.75,410.11 704.00,410.38 704.25,410.75 704.50,411.20 704.75,411.71 705.00,412.28 705.25,412.88 705.50,413.50 705.75,414.30 706.00,415.40 706.25,416.71 706.50,418.14 706.75,419.62 707.00,421.05 707.25,422.36 707.50,423.53 707.75,424.67 708.00,425.79 708.25,426.82 708.50,427.15 708.75,426.91 709.00,426.24 709.25,425.23 709.50,423.99 709.75,422.61 710.00,421.16 710.25,419.74 710.50,418.40 710.75,417.22 711.00,416.26 711.25,415.57 711.50,415.19 711.75,415.16 712.00,415.48 712.25,416.18 712.50,417.26 712.75,418.75 713.00,420.63 713.25,422.88 713.50,425.49 713.75,428.40 714.00,431.58 714.25,434.98 714.50,438.80 714.75,442.82 715.00,446.59 715.25,449.68 715.50,451.66 715.75,452.41 716.00,451.99 716.25,450.40 716.50,448.24 716.75,446.00 717.00,443.86 717.25,442.02 717.50,440.39 717.75,438.60 718.00,436.73 718.25,434.89 718.50,433.19 718.75,431.74 719.00,430.64 719.25,430.01 719.50,429.91 719.75,430.01 720.00,430.20 720.25,430.45 720.50,430.73 720.75,431.03 721.00,431.31 721.25,431.55 721.50,431.72 721.75,431.80 722.00,431.78 722.25,431.69 722.50,431.54 722.75,431.35 723.00,431.11 723.25,430.84 723.50,430.54 723.75,430.22 724.00,429.90 724.25,429.50 724.50,428.96 724.75,428.32 725.00,427.60 725.25,426.83 725.50,426.03 725.75,425.23 726.00,424.46 726.25,423.74 726.50,423.06 726.75,422.35 727.00,421.63 727.25,420.91 727.50,420.19 727.75,419.48 728.00,418.80 728.25,418.15 728.50,417.54 728.75,416.98 729.00,416.48 729.25,416.05 729.50,415.63 729.75,414.54 730.00,412.78 730.25,410.54 730.50,407.92 730.75,405.02 731.00,401.94 731.25,398.77 731.50,395.60 731.75,392.52 732.00,389.62 732.25,386.96 732.50,384.62 732.75,382.66 733.00,381.13 733.25,380.07 733.50,379.50 733.75,379.44 734.00,379.85 734.25,380.73 734.50,382.03 734.75,383.70 735.00,385.67 735.25,387.87 735.50,390.20 735.75,392.50 736.00,394.67 736.25,396.66 736.50,398.41 736.75,399.85 737.00,400.90 737.25,401.48 737.50,401.40 737.75,401.02 738.00,400.82 738.25,400.83 738.50,401.02 738.75,401.36 739.00,401.83 739.25,402.40 739.50,403.05 739.75,403.76 740.00,404.50 740.25,405.48 740.50,406.84 740.75,408.50 741.00,410.38 741.25,412.38 741.50,414.41 741.75,416.39 742.00,418.23 742.25,419.89 742.50,421.54 742.75,423.20 743.00,424.85 743.25,426.48 743.50,428.08 743.75,429.63 744.00,431.12 744.25,432.55 744.50,433.90 744.75,435.20 745.00,436.49 745.25,437.77 745.50,439.01 745.75,440.21 746.00,441.37 746.25,442.46 746.50,443.49 746.75,444.43 747.00,445.29 747.25,446.04 747.50,446.77 747.75,447.48 748.00,448.18 748.25,448.84 748.50,449.47 748.75,450.04 749.00,450.55 749.25,450.99 749.50,451.34 749.75,451.60 750.00,451.75 750.25,451.87 750.50,451.95 750.75,452.02 751.00,451.32 751.25,449.62 751.50,447.23 751.75,444.29 752.00,440.95 752.25,437.36 752.50,433.65 752.75,429.96 753.00,426.55 753.25,423.58 753.50,421.11 753.75,419.22 754.00,417.95 754.25,417.34 754.50,417.40 754.75,418.12 755.00,419.49 755.25,421.46 755.50,423.99 755.75,427.21 756.00,431.07 756.25,435.43 756.50,440.15 756.75,445.07 757.00,450.02 757.25,454.83 757.50,459.32 757.75,463.31 758.00,466.61 758.25,468.97 758.50,469.95 758.75,469.40 759.00,467.62 759.25,465.55 759.50,463.34 759.75,461.15 760.00,459.06 760.25,456.70 760.50,454.05 760.75,451.20 761.00,448.24 761.25,445.27 761.50,442.37 761.75,439.65 762.00,437.19 762.25,435.04 762.50,433.03 762.75,431.12 763.00,429.31 763.25,427.57 763.50,425.87 763.75,424.21 764.00,422.56 764.25,420.92 764.50,419.33 764.75,417.80 765.00,416.30 765.00,490.6"/>
<polygon fill="#331fa5" points="105.00,490.6 105.00,396.00 105.25,394.77 105.50,393.55 105.75,392.32 106.00,391.10 106.25,389.87 106.50,388.65 106.75,387.43 107.00,386.21 107.25,385.00 107.50,383.80 107.75,382.60 108.00,381.40 108.25,380.21 108.50,379.02 108.75,377.83 109.00,376.65 109.25,375.46 109.50,374.27 109.75,373.08 110.00,371.89 110.25,370.70 110.50,369.50 110.75,368.29 111.00,367.08 111.25,365.86 111.50,364.63 111.75,363.40 112.00,362.15 112.25,360.89 112.50,359.62 112.75,358.34 113.00,356.95 113.25,355.46 113.50,353.89 113.75,352.30 114.00,350.71 114.25,349.19 114.50,347.75 114.75,346.45 115.00,345.33 115.25,344.42 115.50,343.76 115.75,343.21 116.00,342.72 116.25,342.29 116.50,341.91 116.75,341.55 117.00,341.22 117.25,340.89 117.50,340.56 117.75,340.21 118.00,339.83 118.25,339.41 118.50,338.93 118.75,338.38 119.00,337.78 119.25,337.17 119.50,336.54 119.75,335.93 120.00,335.35 120.25,334.81 120.50,334.34 120.75,333.96 121.00,333.68 121.25,333.53 121.50,333.51 121.75,333.59 122.00,333.75 122.25,333.97 122.50,334.26 122.75,334.59 123.00,334.95 123.25,335.34 123.50,335.74 123.75,336.16 124.00,336.65 124.25,337.22 124.50,337.88 124.75,338.62 125.00,339.44 125.25,340.34 125.50,341.32 125.75,342.38 126.00,343.73 126.25,345.64 126.50,347.83 126.75,350.04 127.00,351.96 127.25,353.33 127.50,354.47 127.75,355.59 128.00,356.65 128.25,357.62 128.50,358.47 128.75,359.17 129.00,359.67 129.25,359.95 129.50,359.97 129.75,359.70 130.00,359.17 130.25,358.45 130.50,357.59 130.75,356.64 131.00,355.66 131.25,354.70 131.50,353.39 131.75,351.72 132.00,349.92 132.25,348.20 132.50,346.81 132.75,345.96 133.00,345.86 133.25,346.48 133.50,347.59 133.75,349.01 134.00,350.54 134.25,351.97 134.50,353.10 134.75,354.02 135.00,354.92 135.25,355.78 135.50,356.59 135.75,357.33 136.00,357.98 136.25,358.51 136.50,358.92 136.75,359.23 137.00,359.47 137.25,359.68 137.50,359.89 137.75,360.12 138.00,360.41 138.25,360.79 138.50,361.30 138.75,362.54 139.00,364.83 139.25,367.72 139.50,370.77 139.75,373.55 140.00,375.68 140.25,377.52 140.50,379.21 140.75,380.81 141.00,382.34 141.25,383.84 141.50,385.36 141.75,386.93 142.00,388.59 142.25,390.37 142.50,392.46 142.75,394.74 143.00,397.03 143.25,399.12 143.50,400.79 143.75,401.95 144.00,402.89 144.25,403.70 144.50,404.40 144.75,405.04 145.00,405.64 145.25,406.26 145.50,406.91 145.75,407.65 146.00,408.50 146.25,409.50 146.50,410.62 146.75,411.84 147.00,413.13 147.25,414.45 147.50,415.78 147.75,417.07 148.00,418.32 148.25,419.47 148.50,420.50 148.75,421.52 149.00,422.60 149.25,423.68 149.50,424.71 149.75,425.62 150.00,426.35 150.25,426.83 150.50,427.00 150.75,426.93 151.00,426.72 151.25,426.40 151.50,426.00 151.75,425.54 152.00,425.03 152.25,424.51 152.50,424.00 152.75,423.34 153.00,422.46 153.25,421.47 153.50,420.51 153.75,419.69 154.00,419.15 154.25,419.01 154.50,419.39 154.75,420.25 155.00,421.49 155.25,423.02 155.50,424.76 155.75,426.62 156.00,428.50 156.25,430.33 156.50,432.00 156.75,433.63 157.00,435.36 157.25,437.15 157.50,438.98 157.75,440.81 158.00,442.61 158.25,444.35 158.50,446.00 158.75,447.73 159.00,449.64 159.25,451.57 159.50,453.38 159.75,454.90 160.00,455.99 160.25,456.48 160.50,456.38 160.75,455.92 161.00,455.23 161.25,454.39 161.50,453.51 161.75,452.68 162.00,452.00 162.25,451.39 162.50,450.73 162.75,450.07 163.00,449.42 163.25,448.84 163.50,448.35 163.75,448.00 164.00,447.82 164.25,447.82 164.50,447.90 164.75,448.06 165.00,448.29 165.25,448.56 165.50,448.87 165.75,449.22 166.00,449.59 166.25,449.99 166.50,450.63 166.75,451.56 167.00,452.70 167.25,453.95 167.50,455.24 167.75,456.47 168.00,457.56 168.25,458.42 168.50,458.96 168.75,459.09 169.00,458.70 169.25,457.82 169.50,456.52 169.75,454.89 170.00,453.00 170.25,450.93 170.50,448.76 170.75,446.56 171.00,444.42 171.25,442.29 171.50,439.78 171.75,437.01 172.00,434.16 172.25,431.39 172.50,428.89 172.75,426.73 173.00,424.67 173.25,422.68 173.50,420.76 173.75,418.94 174.00,417.21 174.25,415.60 174.50,414.11 174.75,412.75 175.00,411.54 175.25,410.43 175.50,409.42 175.75,408.48 176.00,407.58 176.25,406.70 176.50,405.83 176.75,404.94 177.00,404.00 177.25,403.00 177.50,402.05 177.75,401.13 178.00,400.12 178.25,398.89 178.50,397.20 178.75,394.00 179.00,389.76 179.25,385.29 179.50,381.42 179.75,378.96 180.00,378.52 180.25,378.72 180.50,379.10 180.75,379.60 181.00,380.15 181.25,380.70 181.50,381.20 181.75,381.58 182.00,381.78 182.25,381.76 182.50,381.51 182.75,381.10 183.00,380.58 183.25,380.00 183.50,379.42 183.75,378.90 184.00,378.49 184.25,378.24 184.50,378.21 184.75,378.26 185.00,378.38 185.25,378.54 185.50,378.73 185.75,378.96 186.00,379.20 186.25,379.45 186.50,379.70 186.75,379.94 187.00,380.17 187.25,380.36 187.50,380.52 187.75,380.64 188.00,380.69 188.25,380.64 188.50,380.32 188.75,379.73 189.00,378.95 189.25,378.00 189.50,376.94 189.75,375.80 190.00,374.64 190.25,373.51 190.50,372.43 190.75,371.47 191.00,370.60 191.25,369.68 191.50,368.74 191.75,367.79 192.00,366.84 192.25,365.92 192.50,365.03 192.75,364.20 193.00,363.44 193.25,362.77 193.50,362.20 193.75,361.68 194.00,361.15 194.25,360.64 194.50,360.16 194.75,359.74 195.00,359.38 195.25,359.11 195.50,358.94 195.75,358.91 196.00,359.30 196.25,360.11 196.50,361.19 196.75,362.40 197.00,363.57 197.25,364.62 197.50,365.69 197.75,366.81 198.00,367.97 198.25,369.17 198.50,370.40 198.75,371.68 199.00,373.00 199.25,374.39 199.50,375.86 199.75,377.39 200.00,378.96 200.25,380.55 200.50,382.14 200.75,383.69 201.00,385.24 201.25,386.84 201.50,388.48 201.75,390.12 202.00,391.74 202.25,393.31 202.50,394.82 202.75,396.23 203.00,397.52 203.25,398.69 203.50,399.78 203.75,400.81 204.00,401.79 204.25,402.72 204.50,403.62 204.75,404.48 205.00,405.32 205.25,406.14 205.50,406.93 205.75,407.66 206.00,408.35 206.25,409.00 206.50,409.63 206.75,410.25 207.00,410.88 207.25,411.52 207.50,412.18 207.75,412.89 208.00,413.65 208.25,414.47 208.50,415.38 208.75,416.43 209.00,417.61 209.25,418.90 209.50,420.25 209.75,421.64 210.00,423.04 210.25,424.40 210.50,425.71 210.75,426.92 211.00,428.00 211.25,428.99 211.50,429.96 211.75,430.89 212.00,431.79 212.25,432.65 212.50,433.49 212.75,434.29 213.00,435.06 213.25,435.80 213.50,436.50 213.75,437.16 214.00,437.76 214.25,438.32 214.50,438.85 214.75,439.37 215.00,439.88 215.25,440.41 215.50,440.95 215.75,441.53 216.00,442.16 216.25,442.84 216.50,443.61 216.75,444.44 217.00,445.34 217.25,446.27 217.50,447.24 217.75,448.23 218.00,449.22 218.25,450.20 218.50,451.15 218.75,452.07 219.00,452.95 219.25,453.91 219.50,454.95 219.75,456.03 220.00,457.11 220.25,458.15 220.50,459.13 220.75,460.00 221.00,460.73 221.25,461.28 221.50,461.61 221.75,461.70 222.00,461.63 222.25,461.46 222.50,461.21 222.75,460.88 223.00,460.49 223.25,460.04 223.50,459.54 223.75,459.00 224.00,458.44 224.25,457.85 224.50,457.26 224.75,456.66 225.00,456.08 225.25,455.51 225.50,454.90 225.75,454.14 226.00,453.27 226.25,452.34 226.50,451.38 226.75,450.44 227.00,449.57 227.25,448.82 227.50,448.23 227.75,447.84 228.00,447.70 228.25,447.72 228.50,447.77 228.75,447.85 229.00,447.95 229.25,448.06 229.50,448.17 229.75,448.27 230.00,448.37 230.25,448.44 230.50,448.49 230.75,448.50 231.00,448.47 231.25,448.42 231.50,448.33 231.75,448.22 232.00,448.08 232.25,447.93 232.50,447.76 232.75,447.57 233.00,447.38 233.25,447.18 233.50,446.98 233.75,446.78 234.00,446.59 234.25,446.41 234.50,446.23 234.75,446.02 235.00,445.79 235.25,445.53 235.50,445.26 235.75,444.99 236.00,444.72 236.25,444.46 236.50,444.22 236.75,444.01 237.00,443.83 237.25,443.70 237.50,443.62 237.75,443.61 238.00,443.94 238.25,444.66 238.50,445.64 238.75,446.78 239.00,447.96 239.25,449.07 239.50,450.00 239.75,450.85 240.00,451.78 240.25,452.73 240.50,453.67 240.75,454.53 241.00,455.28 241.25,455.85 241.50,456.21 241.75,456.28 242.00,455.72 242.25,454.45 242.50,452.59 242.75,450.29 243.00,447.65 243.25,444.82 243.50,441.91 243.75,439.06 244.00,436.39 244.25,433.93 244.50,431.35 244.75,428.66 245.00,425.90 245.25,423.09 245.50,420.29 245.75,417.53 246.00,414.86 246.25,412.29 246.50,409.91 246.75,407.72 247.00,405.63 247.25,403.55 247.50,401.40 247.75,399.08 248.00,396.52 248.25,393.58 248.50,390.14 248.75,386.31 249.00,382.24 249.25,378.05 249.50,373.88 249.75,369.87 250.00,366.07 250.25,361.90 250.50,357.46 250.75,353.06 251.00,349.02 251.25,345.64 251.50,343.23 251.75,342.06 252.00,341.40 252.25,340.80 252.50,340.26 252.75,339.80 253.00,339.41 253.25,339.09 253.50,338.85 253.75,338.68 254.00,338.61 254.25,338.60 254.50,338.60 254.75,338.60 255.00,338.60 255.25,338.60 255.50,338.60 255.75,338.60 256.00,338.60 256.25,338.60 256.50,338.60 256.75,338.60 257.00,338.60 257.25,338.60 257.50,338.60 257.75,338.59 258.00,338.41 258.25,337.99 258.50,337.37 258.75,336.60 259.00,335.71 259.25,334.75 259.50,333.74 259.75,332.73 260.00,331.77 260.25,330.88 260.50,330.09 260.75,329.26 261.00,328.37 261.25,327.44 261.50,326.52 261.75,325.61 262.00,324.75 262.25,323.97 262.50,323.28 262.75,322.72 263.00,322.31 263.25,322.05 263.50,321.82 263.75,321.59 264.00,321.38 264.25,321.18 264.50,320.99 264.75,320.82 265.00,320.66 265.25,320.52 265.50,320.40 265.75,320.30 266.00,320.22 266.25,320.16 266.50,320.12 266.75,320.10 267.00,320.10 267.25,320.10 267.50,320.11 267.75,320.12 268.00,320.13 268.25,320.15 268.50,320.17 268.75,320.19 269.00,320.21 269.25,320.24 269.50,320.27 269.75,320.30 270.00,320.34 270.25,320.38 270.50,320.43 270.75,320.59 271.00,320.87 271.25,321.26 271.50,321.73 271.75,322.28 272.00,322.89 272.25,323.54 272.50,324.23 272.75,324.93 273.00,325.62 273.25,326.34 273.50,327.20 273.75,328.18 274.00,329.27 274.25,330.42 274.50,331.62 274.75,332.82 275.00,334.01 275.25,335.15 275.50,336.22 275.75,337.18 276.00,338.02 276.25,338.81 276.50,339.55 276.75,340.27 277.00,340.96 277.25,341.63 277.50,342.27 277.75,342.89 278.00,343.50 278.25,344.09 278.50,344.67 278.75,345.25 279.00,345.83 279.25,346.41 279.50,347.00 279.75,347.57 280.00,348.13 280.25,348.67 280.50,349.19 280.75,349.68 281.00,350.13 281.25,350.55 281.50,350.92 281.75,351.24 282.00,351.53 282.25,351.82 282.50,352.10 282.75,352.36 283.00,352.60 283.25,352.81 283.50,352.96 283.75,353.06 284.00,353.10 284.25,353.02 284.50,352.80 284.75,352.46 285.00,352.05 285.25,351.59 285.50,351.11 285.75,350.64 286.00,350.21 286.25,349.86 286.50,349.62 286.75,349.50 287.00,349.56 287.25,349.80 287.50,350.20 287.75,350.72 288.00,351.35 288.25,352.05 288.50,352.80 288.75,353.58 289.00,354.36 289.25,355.10 289.50,355.80 289.75,356.45 290.00,357.08 290.25,357.71 290.50,358.35 290.75,359.02 291.00,359.72 291.25,360.47 291.50,361.28 291.75,362.17 292.00,363.15 292.25,364.23 292.50,365.49 292.75,366.98 293.00,368.73 293.25,370.76 293.50,373.10 293.75,376.45 294.00,381.07 294.25,386.29 294.50,391.47 294.75,395.93 295.00,399.16 295.25,401.84 295.50,404.27 295.75,406.47 296.00,408.50 296.25,410.39 296.50,412.20 296.75,413.95 297.00,415.58 297.25,417.10 297.50,418.52 297.75,419.88 298.00,421.22 298.25,422.56 298.50,423.93 298.75,425.38 299.00,426.93 299.25,428.57 299.50,430.28 299.75,432.03 300.00,433.81 300.25,435.60 300.50,437.37 300.75,439.11 301.00,440.79 301.25,442.39 301.50,443.93 301.75,445.47 302.00,447.01 302.25,448.53 302.50,450.04 302.75,451.52 303.00,452.98 303.25,454.41 303.50,455.80 303.75,457.14 304.00,458.43 304.25,459.67 304.50,460.85 304.75,461.97 305.00,463.01 305.25,464.03 305.50,465.02 305.75,465.98 306.00,466.90 306.25,467.79 306.50,468.63 306.75,469.42 307.00,470.16 307.25,470.85 307.50,471.47 307.75,472.04 308.00,472.62 308.25,473.20 308.50,473.78 308.75,474.34 309.00,474.88 309.25,475.38 309.50,475.84 309.75,476.25 310.00,476.60 310.25,476.88 310.50,477.07 310.75,477.18 311.00,477.19 311.25,477.05 311.50,476.77 311.75,476.36 312.00,475.85 312.25,475.25 312.50,474.57 312.75,473.84 313.00,473.06 313.25,472.26 313.50,471.46 313.75,470.67 314.00,469.90 314.25,469.12 314.50,468.29 314.75,467.40 315.00,466.46 315.25,465.48 315.50,464.45 315.75,463.38 316.00,462.27 316.25,461.13 316.50,459.96 316.75,458.76 317.00,457.46 317.25,456.06 317.50,454.57 317.75,453.02 318.00,451.43 318.25,449.81 318.50,448.20 318.75,446.60 319.00,445.05 319.25,443.56 319.50,442.14 319.75,440.79 320.00,439.47 320.25,438.18 320.50,436.91 320.75,435.65 321.00,434.39 321.25,433.13 321.50,431.85 321.75,430.54 322.00,429.20 322.25,427.82 322.50,426.37 322.75,424.87 323.00,423.32 323.25,421.75 323.50,420.16 323.75,418.58 324.00,417.02 324.25,415.50 324.50,414.02 324.75,412.61 325.00,411.27 325.25,409.97 325.50,408.68 325.75,407.42 326.00,406.19 326.25,404.98 326.50,403.81 326.75,402.67 327.00,401.57 327.25,400.51 327.50,399.49 327.75,398.53 328.00,397.63 328.25,396.77 328.50,395.95 328.75,395.14 329.00,394.34 329.25,393.51 329.50,392.65 329.75,391.70 330.00,390.67 330.25,389.59 330.50,388.45 330.75,387.29 331.00,386.11 331.25,384.93 331.50,383.77 331.75,382.64 332.00,381.57 332.25,380.56 332.50,379.63 332.75,378.80 333.00,378.09 333.25,377.51 333.50,377.07 333.75,376.79 334.00,376.70 334.25,376.85 334.50,377.27 334.75,377.91 335.00,378.73 335.25,379.70 335.50,380.75 335.75,381.86 336.00,382.98 336.25,384.07 336.50,385.08 336.75,385.97 337.00,386.83 337.25,387.72 337.50,388.62 337.75,389.54 338.00,390.45 338.25,391.37 338.50,392.28 338.75,393.17 339.00,394.04 339.25,394.88 339.50,395.70 339.75,396.47 340.00,397.20 340.25,397.87 340.50,398.52 340.75,399.21 341.00,399.91 341.25,400.61 341.50,401.28 341.75,401.90 342.00,402.46 342.25,402.93 342.50,403.29 342.75,403.52 343.00,403.60 343.25,403.34 343.50,402.64 343.75,401.63 344.00,400.43 344.25,399.18 344.50,398.00 344.75,396.89 345.00,395.77 345.25,394.63 345.50,393.44 345.75,392.20 346.00,390.90 346.25,389.53 346.50,388.07 346.75,386.51 347.00,384.84 347.25,383.04 347.50,381.11 347.75,378.90 348.00,375.96 348.25,372.48 348.50,368.71 348.75,364.91 349.00,361.33 349.25,358.23 349.50,355.78 349.75,353.45 350.00,351.17 350.25,349.03 350.50,347.15 350.75,345.60 351.00,344.50 351.25,343.92 351.50,343.57 351.75,343.25 352.00,342.98 352.25,342.74 352.50,342.53 352.75,342.35 353.00,342.19 353.25,342.06 353.50,341.95 353.75,341.85 354.00,341.77 354.25,341.69 354.50,341.61 354.75,341.54 355.00,341.48 355.25,341.42 355.50,341.37 355.75,341.33 356.00,341.31 356.25,341.30 356.50,341.45 356.75,342.00 357.00,342.86 357.25,343.95 357.50,345.18 357.75,346.43 358.00,347.64 358.25,348.69 358.50,349.50 358.75,350.12 359.00,350.66 359.25,351.15 359.50,351.60 359.75,352.03 360.00,352.45 360.25,352.88 360.50,353.34 360.75,353.84 361.00,354.40 361.25,355.04 361.50,355.85 361.75,356.85 362.00,358.00 362.25,359.27 362.50,360.60 362.75,361.97 363.00,363.33 363.25,364.65 363.50,365.88 363.75,366.99 364.00,367.93 364.25,368.68 364.50,369.17 364.75,369.39 365.00,369.30 365.25,368.92 365.50,368.30 365.75,367.49 366.00,366.54 366.25,365.51 366.50,364.43 366.75,363.28 367.00,361.80 367.25,360.03 367.50,358.04 367.75,355.92 368.00,353.73 368.25,351.57 368.50,349.50 368.75,347.39 369.00,345.12 369.25,342.82 369.50,340.62 369.75,338.64 370.00,337.00 370.25,335.63 370.50,334.36 370.75,333.17 371.00,332.07 371.25,331.03 371.50,330.05 371.75,329.12 372.00,328.24 372.25,327.39 372.50,326.55 372.75,325.74 373.00,324.96 373.25,324.22 373.50,323.52 373.75,322.84 374.00,322.19 374.25,321.55 374.50,320.92 374.75,320.29 375.00,319.65 375.25,319.00 375.50,318.32 375.75,317.55 376.00,316.70 376.25,315.81 376.50,314.90 376.75,314.02 377.00,313.20 377.25,312.45 377.50,311.83 377.75,311.36 378.00,311.07 378.25,311.01 378.50,311.29 378.75,311.91 379.00,312.81 379.25,313.93 379.50,315.20 379.75,316.54 380.00,317.90 380.25,319.21 380.50,320.40 380.75,321.55 381.00,322.76 381.25,324.02 381.50,325.31 381.75,326.62 382.00,327.91 382.25,329.18 382.50,330.42 382.75,331.59 383.00,332.69 383.25,333.72 383.50,334.82 383.75,335.97 384.00,337.13 384.25,338.27 384.50,339.36 384.75,340.37 385.00,341.27 385.25,342.02 385.50,342.60 385.75,342.97 386.00,343.10 386.25,343.03 386.50,342.85 386.75,342.61 387.00,342.34 387.25,342.09 387.50,341.90 387.75,341.80 388.00,342.01 388.25,342.77 388.50,343.93 388.75,345.32 389.00,346.77 389.25,348.12 389.50,349.19 389.75,349.92 390.00,350.64 390.25,351.30 390.50,351.82 390.75,352.14 391.00,352.12 391.25,351.36 391.50,349.96 391.75,348.18 392.00,346.26 392.25,344.44 392.50,342.97 392.75,342.07 393.00,341.41 393.25,340.79 393.50,340.25 393.75,339.83 394.00,339.57 394.25,339.51 394.50,339.81 394.75,340.47 395.00,341.41 395.25,342.55 395.50,343.81 395.75,345.11 396.00,346.36 396.25,347.50 396.50,348.52 396.75,349.61 397.00,350.73 397.25,351.86 397.50,352.99 397.75,354.09 398.00,355.13 398.25,356.11 398.50,356.98 398.75,357.74 399.00,358.44 399.25,359.09 399.50,359.71 399.75,360.30 400.00,360.86 400.25,361.38 400.50,361.87 400.75,362.34 401.00,362.77 401.25,363.18 401.50,363.59 401.75,364.02 402.00,364.44 402.25,364.86 402.50,365.25 402.75,365.62 403.00,365.95 403.25,366.23 403.50,366.46 403.75,366.61 404.00,366.69 404.25,366.64 404.50,366.33 404.75,365.77 405.00,365.04 405.25,364.18 405.50,363.25 405.75,362.30 406.00,361.38 406.25,360.55 406.50,359.77 406.75,358.87 407.00,357.90 407.25,356.89 407.50,355.89 407.75,354.93 408.00,354.05 408.25,353.30 408.50,352.72 408.75,352.34 409.00,352.20 409.25,352.30 409.50,352.58 409.75,353.00 410.00,353.51 410.25,354.09 410.50,354.69 410.75,355.28 411.00,355.81 411.25,356.25 411.50,356.56 411.75,356.70 412.00,356.61 412.25,356.27 412.50,355.71 412.75,354.96 413.00,354.07 413.25,353.07 413.50,351.99 413.75,350.88 414.00,349.77 414.25,348.70 414.50,347.70 414.75,346.66 415.00,345.47 415.25,344.19 415.50,342.88 415.75,341.59 416.00,340.38 416.25,339.30 416.50,338.42 416.75,337.79 417.00,337.37 417.25,336.96 417.50,336.58 417.75,336.23 418.00,335.91 418.25,335.64 418.50,335.40 418.75,335.21 419.00,335.08 419.25,335.01 419.50,335.01 419.75,335.15 420.00,335.41 420.25,335.79 420.50,336.26 420.75,336.80 421.00,337.41 421.25,338.05 421.50,338.71 421.75,339.37 422.00,340.07 422.25,340.90 422.50,341.86 422.75,342.91 423.00,344.04 423.25,345.23 423.50,346.45 423.75,347.69 424.00,348.93 424.25,350.14 424.50,351.30 424.75,352.44 425.00,353.59 425.25,354.74 425.50,355.91 425.75,357.08 426.00,358.27 426.25,359.45 426.50,360.64 426.75,361.84 427.00,363.04 427.25,364.25 427.50,365.61 427.75,367.15 428.00,368.77 428.25,370.40 428.50,371.95 428.75,373.34 429.00,374.50 429.25,375.33 429.50,375.76 429.75,375.79 430.00,375.74 430.25,375.64 430.50,375.50 430.75,375.32 431.00,375.12 431.25,374.89 431.50,374.64 431.75,374.38 432.00,374.11 432.25,373.79 432.50,373.29 432.75,372.63 433.00,371.85 433.25,371.00 433.50,370.12 433.75,369.26 434.00,368.46 434.25,367.75 434.50,367.20 434.75,366.83 435.00,366.70 435.25,366.82 435.50,367.17 435.75,367.69 436.00,368.34 436.25,369.09 436.50,369.89 436.75,370.69 437.00,371.47 437.25,372.17 437.50,372.74 437.75,373.16 438.00,373.38 438.25,373.36 438.50,373.12 438.75,372.68 439.00,372.09 439.25,371.37 439.50,370.55 439.75,369.65 440.00,368.72 440.25,367.77 440.50,366.85 440.75,365.97 441.00,365.08 441.25,364.05 441.50,362.92 441.75,361.72 442.00,360.49 442.25,359.28 442.50,358.12 442.75,357.07 443.00,356.15 443.25,355.42 443.50,354.90 443.75,354.54 444.00,354.22 444.25,353.95 444.50,353.71 444.75,353.49 445.00,353.29 445.25,353.10 445.50,352.91 445.75,352.71 446.00,352.49 446.25,352.25 446.50,351.97 446.75,351.65 447.00,351.29 447.25,350.91 447.50,350.53 447.75,350.14 448.00,349.77 448.25,349.44 448.50,349.14 448.75,348.90 449.00,348.72 449.25,348.62 449.50,348.62 449.75,348.84 450.00,349.28 450.25,349.88 450.50,350.63 450.75,351.47 451.00,352.37 451.25,353.30 451.50,354.21 451.75,355.07 452.00,356.10 452.25,357.34 452.50,358.72 452.75,360.18 453.00,361.64 453.25,363.04 453.50,364.31 453.75,365.38 454.00,366.17 454.25,366.62 454.50,366.69 454.75,366.54 455.00,366.28 455.25,365.92 455.50,365.52 455.75,365.10 456.00,364.70 456.25,364.36 456.50,364.12 456.75,364.00 457.00,364.18 457.25,364.83 457.50,365.86 457.75,367.13 458.00,368.54 458.25,369.96 458.50,371.28 458.75,372.36 459.00,373.10 459.25,373.63 459.50,374.14 459.75,374.55 460.00,374.83 460.25,374.86 460.50,373.77 460.75,371.58 461.00,368.91 461.25,366.35 461.50,364.53 461.75,364.00 462.00,364.03 462.25,364.08 462.50,364.18 462.75,364.30 463.00,364.46 463.25,364.65 463.50,364.86 463.75,365.11 464.00,365.38 464.25,365.78 464.50,366.67 464.75,367.98 465.00,369.61 465.25,371.44 465.50,373.37 465.75,375.29 466.00,377.60 466.25,380.33 466.50,383.22 466.75,386.04 467.00,388.54 467.25,390.51 467.50,392.02 467.75,393.35 468.00,394.79 468.25,396.61 468.50,399.30 468.75,404.40 469.00,410.84 469.25,416.90 469.50,420.90 469.75,423.15 470.00,425.10 470.25,426.79 470.50,428.26 470.75,429.56 471.00,430.72 471.25,431.78 471.50,432.80 471.75,433.80 472.00,434.71 472.25,435.52 472.50,436.24 472.75,436.91 473.00,437.54 473.25,438.18 473.50,438.83 473.75,439.54 474.00,440.32 474.25,441.21 474.50,442.24 474.75,443.56 475.00,445.13 475.25,446.89 475.50,448.78 475.75,450.71 476.00,452.61 476.25,454.43 476.50,456.09 476.75,457.52 477.00,458.65 477.25,459.48 477.50,460.27 477.75,461.04 478.00,461.79 478.25,462.52 478.50,463.21 478.75,463.86 479.00,464.47 479.25,465.04 479.50,465.55 479.75,466.00 480.00,466.38 480.25,466.70 480.50,466.95 480.75,467.11 481.00,467.19 481.25,467.10 481.50,466.53 481.75,465.56 482.00,464.32 482.25,462.93 482.50,461.52 482.75,460.21 483.00,459.12 483.25,458.38 483.50,458.10 483.75,458.16 484.00,458.34 484.25,458.60 484.50,458.94 484.75,459.34 485.00,459.77 485.25,460.21 485.50,460.65 485.75,461.07 486.00,461.44 486.25,461.76 486.50,462.04 486.75,462.30 487.00,462.55 487.25,462.80 487.50,463.04 487.75,463.28 488.00,463.53 488.25,463.78 488.50,464.04 488.75,464.32 489.00,464.63 489.25,464.99 489.50,465.41 489.75,465.87 490.00,466.35 490.25,466.84 490.50,467.31 490.75,467.76 491.00,468.16 491.25,468.50 491.50,468.77 491.75,468.94 492.00,469.00 492.25,468.99 492.50,468.94 492.75,468.87 493.00,468.78 493.25,468.67 493.50,468.53 493.75,468.38 494.00,468.22 494.25,468.04 494.50,467.85 494.75,467.65 495.00,467.45 495.25,467.24 495.50,466.97 495.75,466.57 496.00,466.07 496.25,465.56 496.50,465.09 496.75,464.72 497.00,464.52 497.25,464.59 497.50,465.10 497.75,465.98 498.00,467.13 498.25,468.44 498.50,469.82 498.75,471.16 499.00,472.37 499.25,473.34 499.50,474.12 499.75,474.93 500.00,475.74 500.25,476.53 500.50,477.26 500.75,477.90 501.00,478.42 501.25,478.79 501.50,478.98 501.75,478.93 502.00,478.51 502.25,477.76 502.50,476.75 502.75,475.53 503.00,474.16 503.25,472.69 503.50,471.18 503.75,469.69 504.00,468.27 504.25,466.99 504.50,465.85 504.75,464.61 505.00,463.27 505.25,461.89 505.50,460.56 505.75,459.36 506.00,458.35 506.25,457.62 506.50,457.24 506.75,457.20 507.00,457.20 507.25,457.21 507.50,457.42 507.75,457.91 508.00,458.61 508.25,459.47 508.50,460.45 508.75,461.50 509.00,462.55 509.25,463.57 509.50,464.50 509.75,465.41 510.00,466.39 510.25,467.41 510.50,468.47 510.75,469.54 511.00,470.61 511.25,471.65 511.50,472.64 511.75,473.57 512.00,474.42 512.25,475.16 512.50,475.83 512.75,476.50 513.00,477.16 513.25,477.80 513.50,478.41 513.75,478.98 514.00,479.49 514.25,479.94 514.50,480.31 514.75,480.61 515.00,480.80 515.25,480.93 515.50,481.03 515.75,481.11 516.00,481.17 516.25,481.23 516.50,481.28 516.75,481.34 517.00,481.41 517.25,481.49 517.50,481.60 517.75,481.73 518.00,482.02 518.25,482.48 518.50,483.07 518.75,483.74 519.00,484.45 519.25,485.16 519.50,485.81 519.75,486.38 520.00,486.81 520.25,487.06 520.50,487.10 520.75,487.08 521.00,487.05 521.25,487.00 521.50,486.94 521.75,486.87 522.00,486.78 522.25,486.68 522.50,486.56 522.75,486.44 523.00,486.31 523.25,486.17 523.50,485.90 523.75,485.49 524.00,484.95 524.25,484.33 524.50,483.63 524.75,482.90 525.00,482.17 525.25,481.45 525.50,480.79 525.75,480.20 526.00,479.72 526.25,479.27 526.50,478.85 526.75,478.45 527.00,478.06 527.25,477.69 527.50,477.33 527.75,476.97 528.00,476.62 528.25,476.27 528.50,475.91 528.75,475.55 529.00,475.18 529.25,474.80 529.50,474.40 529.75,473.99 530.00,473.57 530.25,473.14 530.50,472.70 530.75,472.26 531.00,471.82 531.25,471.37 531.50,470.93 531.75,470.48 532.00,470.03 532.25,469.58 532.50,469.14 532.75,468.70 533.00,468.27 533.25,467.83 533.50,467.35 533.75,466.83 534.00,466.28 534.25,465.73 534.50,465.18 534.75,464.65 535.00,464.15 535.25,463.69 535.50,463.30 535.75,462.98 536.00,462.75 536.25,462.62 536.50,462.61 536.75,462.73 537.00,462.95 537.25,463.26 537.50,463.64 537.75,464.07 538.00,464.52 538.25,464.98 538.50,465.42 538.75,465.83 539.00,466.18 539.25,466.47 539.50,466.78 539.75,467.10 540.00,467.43 540.25,467.74 540.50,468.05 540.75,468.32 541.00,468.56 541.25,468.76 541.50,468.91 541.75,468.99 542.00,468.99 542.25,468.92 542.50,468.79 542.75,468.59 543.00,468.36 543.25,468.09 543.50,467.80 543.75,467.50 544.00,467.19 544.25,466.91 544.50,466.64 544.75,466.42 545.00,466.23 545.25,466.04 545.50,465.85 545.75,465.65 546.00,465.46 546.25,465.27 546.50,465.09 546.75,464.93 547.00,464.79 547.25,464.67 547.50,464.58 547.75,464.52 548.00,464.50 548.25,464.53 548.50,464.63 548.75,464.77 549.00,464.96 549.25,465.18 549.50,465.43 549.75,465.69 550.00,465.96 550.25,466.22 550.50,466.47 550.75,466.70 551.00,466.89 551.25,467.05 551.50,467.15 551.75,467.20 552.00,467.11 552.25,466.76 552.50,466.19 552.75,465.43 553.00,464.54 553.25,463.56 553.50,462.52 553.75,461.47 554.00,460.46 554.25,459.51 554.50,458.67 554.75,457.84 555.00,456.99 555.25,456.12 555.50,455.25 555.75,454.38 556.00,453.52 556.25,452.66 556.50,451.82 556.75,451.00 557.00,450.21 557.25,449.42 557.50,448.57 557.75,447.67 558.00,446.73 558.25,445.81 558.50,444.91 558.75,444.08 559.00,443.33 559.25,442.71 559.50,442.22 559.75,441.91 560.00,441.80 560.25,441.83 560.50,441.93 560.75,442.07 561.00,442.24 561.25,442.44 561.50,442.66 561.75,442.87 562.00,443.08 562.25,443.27 562.50,443.42 562.75,443.54 563.00,443.59 563.25,443.54 563.50,443.21 563.75,442.61 564.00,441.80 564.25,440.81 564.50,439.70 564.75,438.51 565.00,437.27 565.25,436.05 565.50,434.88 565.75,433.80 566.00,432.75 566.25,431.56 566.50,430.24 566.75,428.86 567.00,427.45 567.25,426.06 567.50,424.74 567.75,423.51 568.00,422.44 568.25,421.56 568.50,420.92 568.75,420.56 569.00,420.54 569.25,420.95 569.50,421.76 569.75,422.87 570.00,424.21 570.25,425.70 570.50,427.26 570.75,428.81 571.00,430.27 571.25,431.57 571.50,432.72 571.75,433.88 572.00,435.05 572.25,436.22 572.50,437.38 572.75,438.53 573.00,439.64 573.25,440.71 573.50,441.74 573.75,442.70 574.00,443.60 574.25,444.44 574.50,445.26 574.75,446.06 575.00,446.82 575.25,447.57 575.50,448.29 575.75,448.99 576.00,449.67 576.25,450.33 576.50,450.97 576.75,451.60 577.00,452.20 577.25,452.80 577.50,453.37 577.75,453.93 578.00,454.45 578.25,454.93 578.50,455.39 578.75,455.83 579.00,456.26 579.25,456.68 579.50,457.11 579.75,457.54 580.00,458.00 580.25,458.48 580.50,458.99 580.75,459.55 581.00,460.16 581.25,460.90 581.50,461.78 581.75,462.76 582.00,463.82 582.25,464.94 582.50,466.08 582.75,467.23 583.00,468.36 583.25,469.44 583.50,470.44 583.75,471.34 584.00,472.12 584.25,472.75 584.50,473.21 584.75,473.46 585.00,473.48 585.25,473.22 585.50,472.71 585.75,472.00 586.00,471.13 586.25,470.14 586.50,469.07 586.75,467.96 587.00,466.86 587.25,465.81 587.50,464.85 587.75,463.96 588.00,462.96 588.25,461.85 588.50,460.72 588.75,459.60 589.00,458.56 589.25,457.66 589.50,456.94 589.75,456.47 590.00,456.30 590.25,456.46 590.50,456.89 590.75,457.54 591.00,458.35 591.25,459.26 591.50,460.21 591.75,461.15 592.00,462.01 592.25,462.74 592.50,463.41 592.75,464.09 593.00,464.77 593.25,465.44 593.50,466.11 593.75,466.77 594.00,467.43 594.25,468.07 594.50,468.70 594.75,469.31 595.00,469.91 595.25,470.50 595.50,471.06 595.75,471.60 596.00,472.12 596.25,472.65 596.50,473.19 596.75,473.72 597.00,474.24 597.25,474.76 597.50,475.26 597.75,475.74 598.00,476.19 598.25,476.62 598.50,477.02 598.75,477.37 599.00,477.69 599.25,477.96 599.50,478.18 599.75,478.38 600.00,478.55 600.25,478.71 600.50,478.85 600.75,478.98 601.00,479.11 601.25,479.22 601.50,479.34 601.75,479.45 602.00,479.57 602.25,479.69 602.50,479.83 602.75,479.97 603.00,480.13 603.25,480.31 603.50,480.53 603.75,480.77 604.00,481.04 604.25,481.33 604.50,481.62 604.75,481.92 605.00,482.21 605.25,482.48 605.50,482.74 605.75,482.98 606.00,483.18 606.25,483.34 606.50,483.45 606.75,483.51 607.00,483.55 607.25,483.58 607.50,483.60 607.75,483.63 608.00,483.65 608.25,483.66 608.50,483.68 608.75,483.69 609.00,483.70 609.25,483.71 609.50,483.73 609.75,483.74 610.00,483.76 610.25,483.78 610.50,483.81 610.75,483.83 611.00,483.87 611.25,483.91 611.50,484.01 611.75,484.18 612.00,484.41 612.25,484.70 612.50,485.01 612.75,485.35 613.00,485.71 613.25,486.06 613.50,486.40 613.75,486.71 614.00,486.99 614.25,487.22 614.50,487.39 614.75,487.48 615.00,487.50 615.25,487.49 615.50,487.47 615.75,487.44 616.00,487.41 616.25,487.37 616.50,487.33 616.75,487.29 617.00,487.25 617.25,487.21 617.50,487.18 617.75,487.14 618.00,487.12 618.25,487.11 618.50,487.10 618.75,487.11 619.00,487.14 619.25,487.18 619.50,487.22 619.75,487.28 620.00,487.33 620.25,487.39 620.50,487.43 620.75,487.47 621.00,487.49 621.25,487.49 621.50,487.33 621.75,486.94 622.00,486.37 622.25,485.63 622.50,484.77 622.75,483.82 623.00,482.79 623.25,481.73 623.50,480.66 623.75,479.61 624.00,478.59 624.25,477.49 624.50,476.27 624.75,474.97 625.00,473.61 625.25,472.20 625.50,470.77 625.75,469.34 626.00,467.93 626.25,466.57 626.50,465.26 626.75,464.00 627.00,462.76 627.25,461.55 627.50,460.34 627.75,459.12 628.00,457.88 628.25,456.61 628.50,455.28 628.75,453.89 629.00,452.43 629.25,450.88 629.50,449.21 629.75,447.29 630.00,445.15 630.25,442.85 630.50,440.46 630.75,438.05 631.00,435.69 631.25,433.44 631.50,431.38 631.75,429.55 632.00,427.73 632.25,425.84 632.50,423.97 632.75,422.18 633.00,420.55 633.25,419.16 633.50,418.08 633.75,417.39 634.00,417.13 634.25,417.00 634.50,416.89 634.75,416.81 635.00,416.74 635.25,416.69 635.50,416.63 635.75,416.56 636.00,416.48 636.25,416.38 636.50,416.24 636.75,416.00 637.00,415.68 637.25,415.28 637.50,414.84 637.75,414.36 638.00,413.87 638.25,413.38 638.50,412.93 638.75,412.52 639.00,412.17 639.25,411.90 639.50,411.74 639.75,411.71 640.00,412.16 640.25,413.12 640.50,414.43 640.75,415.94 641.00,417.48 641.25,418.89 641.50,420.01 641.75,420.68 642.00,420.79 642.25,420.72 642.50,420.58 642.75,420.39 643.00,420.17 643.25,419.94 643.50,419.69 643.75,419.36 644.00,418.97 644.25,418.53 644.50,418.07 644.75,417.60 645.00,417.13 645.25,416.69 645.50,416.30 645.75,415.94 646.00,415.58 646.25,415.22 646.50,414.88 646.75,414.54 647.00,414.20 647.25,413.88 647.50,413.56 647.75,413.25 648.00,412.95 648.25,412.66 648.50,412.38 648.75,412.14 649.00,411.91 649.25,411.70 649.50,411.49 649.75,411.28 650.00,411.05 650.25,410.81 650.50,410.55 650.75,410.24 651.00,409.90 651.25,409.50 651.50,409.04 651.75,408.50 652.00,407.90 652.25,407.21 652.50,406.44 652.75,405.58 653.00,404.48 653.25,402.92 653.50,401.04 653.75,398.98 654.00,396.90 654.25,394.94 654.50,393.26 654.75,391.92 655.00,390.67 655.25,389.46 655.50,388.31 655.75,387.21 656.00,386.18 656.25,385.20 656.50,384.28 656.75,383.43 657.00,382.65 657.25,381.93 657.50,381.29 657.75,380.72 658.00,380.20 658.25,379.72 658.50,379.27 658.75,378.84 659.00,378.42 659.25,377.99 659.50,377.53 659.75,377.05 660.00,376.53 660.25,375.92 660.50,375.17 660.75,374.31 661.00,373.39 661.25,372.49 661.50,371.65 661.75,370.92 662.00,370.37 662.25,370.06 662.50,370.03 662.75,370.29 663.00,370.80 663.25,371.50 663.50,372.34 663.75,373.26 664.00,374.21 664.25,375.14 664.50,375.99 664.75,376.74 665.00,377.46 665.25,378.17 665.50,378.89 665.75,379.61 666.00,380.35 666.25,381.11 666.50,381.90 666.75,382.73 667.00,383.60 667.25,384.53 667.50,385.52 667.75,386.57 668.00,387.66 668.25,388.78 668.50,389.92 668.75,391.08 669.00,392.24 669.25,393.40 669.50,394.61 669.75,395.85 670.00,397.11 670.25,398.38 670.50,399.65 670.75,400.92 671.00,402.16 671.25,403.36 671.50,404.62 671.75,406.06 672.00,407.55 672.25,408.98 672.50,410.23 672.75,411.16 673.00,411.65 673.25,411.61 673.50,411.10 673.75,410.24 674.00,409.14 674.25,407.90 674.50,406.65 674.75,405.48 675.00,404.51 675.25,403.85 675.50,403.60 675.75,403.63 676.00,403.72 676.25,403.86 676.50,404.05 676.75,404.26 677.00,404.51 677.25,404.78 677.50,405.06 677.75,405.34 678.00,405.68 678.25,406.16 678.50,406.75 678.75,407.39 679.00,408.05 679.25,408.67 679.50,409.22 679.75,409.64 680.00,409.90 680.25,410.04 680.50,410.14 680.75,410.22 681.00,410.29 681.25,410.34 681.50,410.41 681.75,410.48 682.00,410.58 682.25,410.70 682.50,410.92 682.75,411.59 683.00,412.68 683.25,414.05 683.50,415.54 683.75,417.01 684.00,418.32 684.25,419.31 684.50,419.85 684.75,419.72 685.00,418.78 685.25,417.37 685.50,415.88 685.75,414.67 686.00,413.88 686.25,413.13 686.50,412.41 686.75,411.74 687.00,411.12 687.25,410.55 687.50,410.04 687.75,409.60 688.00,409.24 688.25,408.95 688.50,408.72 688.75,408.54 689.00,408.40 689.25,408.27 689.50,408.15 689.75,408.04 690.00,407.91 690.25,407.76 690.50,407.58 690.75,407.36 691.00,407.05 691.25,406.43 691.50,405.49 691.75,404.33 692.00,403.02 692.25,401.63 692.50,400.26 692.75,398.97 693.00,397.85 693.25,396.99 693.50,396.44 693.75,396.30 694.00,396.37 694.25,396.54 694.50,396.77 694.75,397.06 695.00,397.39 695.25,397.74 695.50,398.10 695.75,398.51 696.00,399.03 696.25,399.63 696.50,400.30 696.75,401.02 697.00,401.78 697.25,402.56 697.50,403.34 697.75,404.11 698.00,404.84 698.25,405.54 698.50,406.28 698.75,407.11 699.00,407.99 699.25,408.87 699.50,409.74 699.75,410.55 700.00,411.27 700.25,411.87 700.50,412.31 700.75,412.56 701.00,412.58 701.25,412.39 701.50,412.04 701.75,411.57 702.00,411.02 702.25,410.46 702.50,409.93 702.75,409.48 703.00,409.15 703.25,409.00 703.50,409.04 703.75,409.21 704.00,409.48 704.25,409.85 704.50,410.30 704.75,410.81 705.00,411.38 705.25,411.98 705.50,412.60 705.75,413.40 706.00,414.50 706.25,415.81 706.50,417.24 706.75,418.72 707.00,420.15 707.25,421.46 707.50,422.63 707.75,423.77 708.00,424.89 708.25,425.98 708.50,427.07 708.75,428.14 709.00,429.20 709.25,430.26 709.50,431.33 709.75,432.40 710.00,433.49 710.25,434.57 710.50,435.65 710.75,436.71 711.00,437.74 711.25,438.75 711.50,439.71 711.75,440.62 712.00,441.47 712.25,442.26 712.50,442.99 712.75,443.69 713.00,444.38 713.25,445.07 713.50,445.79 713.75,446.56 714.00,447.38 714.25,448.30 714.50,449.59 714.75,451.11 715.00,452.51 715.25,453.43 715.50,453.53 715.75,452.78 716.00,451.37 716.25,449.50 716.50,447.34 716.75,445.10 717.00,442.96 717.25,441.12 717.50,439.49 717.75,437.70 718.00,435.83 718.25,433.99 718.50,432.29 718.75,430.84 719.00,429.74 719.25,429.11 719.50,429.01 719.75,429.11 720.00,429.30 720.25,429.55 720.50,429.83 720.75,430.13 721.00,430.41 721.25,430.65 721.50,430.82 721.75,430.90 722.00,430.88 722.25,430.79 722.50,430.64 722.75,430.45 723.00,430.21 723.25,429.94 723.50,429.64 723.75,429.32 724.00,429.00 724.25,428.60 724.50,428.06 724.75,427.42 725.00,426.70 725.25,425.93 725.50,425.13 725.75,424.33 726.00,423.56 726.25,422.84 726.50,422.16 726.75,421.45 727.00,420.73 727.25,420.01 727.50,419.29 727.75,418.58 728.00,417.90 728.25,417.25 728.50,416.64 728.75,416.08 729.00,415.58 729.25,415.15 729.50,414.75 729.75,414.38 730.00,414.05 730.25,413.73 730.50,413.43 730.75,413.14 731.00,412.86 731.25,412.58 731.50,412.31 731.75,412.02 732.00,411.72 732.25,411.41 732.50,411.08 732.75,410.73 733.00,410.36 733.25,409.98 733.50,409.60 733.75,409.21 734.00,408.80 734.25,408.39 734.50,407.96 734.75,407.52 735.00,407.06 735.25,406.59 735.50,406.09 735.75,405.49 736.00,404.78 736.25,404.02 736.50,403.22 736.75,402.44 737.00,401.70 737.25,401.04 737.50,400.50 737.75,400.12 738.00,399.92 738.25,399.93 738.50,400.12 738.75,400.46 739.00,400.93 739.25,401.50 739.50,402.15 739.75,402.86 740.00,403.60 740.25,404.58 740.50,405.94 740.75,407.60 741.00,409.48 741.25,411.48 741.50,413.51 741.75,415.49 742.00,417.33 742.25,418.99 742.50,420.64 742.75,422.30 743.00,423.95 743.25,425.58 743.50,427.18 743.75,428.73 744.00,430.22 744.25,431.65 744.50,433.00 744.75,434.30 745.00,435.59 745.25,436.87 745.50,438.11 745.75,439.31 746.00,440.47 746.25,441.56 746.50,442.59 746.75,443.53 747.00,444.39 747.25,445.14 747.50,445.87 747.75,446.58 748.00,447.28 748.25,447.94 748.50,448.57 748.75,449.14 749.00,449.65 749.25,450.09 749.50,450.44 749.75,450.70 750.00,450.85 750.25,450.97 750.50,451.05 750.75,451.12 751.00,451.18 751.25,451.23 751.50,451.28 751.75,451.33 752.00,451.40 752.25,451.48 752.50,451.59 752.75,451.73 753.00,452.05 753.25,452.57 753.50,453.27 753.75,454.11 754.00,455.06 754.25,456.08 754.50,457.15 754.75,458.22 755.00,459.27 755.25,460.25 755.50,461.17 755.75,462.20 756.00,463.34 756.25,464.56 756.50,465.79 756.75,466.99 757.00,468.11 757.25,469.10 757.50,469.90 757.75,470.48 758.00,470.77 758.25,470.66 758.50,469.87 758.75,468.51 759.00,466.72 759.25,464.65 759.50,462.44 759.75,460.25 760.00,458.16 760.25,455.80 760.50,453.15 760.75,450.30 761.00,447.34 761.25,444.37 761.50,441.47 761.75,438.75 762.00,436.29 762.25,434.14 762.50,432.13 762.75,430.22 763.00,428.41 763.25,426.67 763.50,424.97 763.75,423.31 764.00,421.66 764.25,420.02 764.50,418.43 764.75,416.90 765.00,415.40 765.00,490.6"/>
<clipPath id="pc"><rect x="105" y="60" width="660.8" height="430.75"/></clipPath>
<polygon clip-path="url(#pc)" fill="rgb(157,48,0)" fill-opacity="0.444" stroke="#a93c0a" stroke-width="1.8" stroke-linejoin="round" points="105.00,490.6 105.00,433.60 105.25,434.10 105.50,434.59 105.75,435.07 106.00,435.52 106.25,435.96 106.50,436.39 106.75,436.79 107.00,437.17 107.25,437.54 107.50,437.88 107.75,438.19 108.00,438.48 108.25,438.75 108.50,439.02 108.75,439.29 109.00,439.55 109.25,439.81 109.50,440.05 109.75,440.27 110.00,440.46 110.25,440.62 110.50,440.73 110.75,440.79 111.00,440.79 111.25,440.71 111.50,440.54 111.75,440.30 112.00,439.99 112.25,439.63 112.50,439.22 112.75,438.77 113.00,438.30 113.25,437.70 113.50,436.62 113.75,435.15 114.00,433.44 114.25,431.63 114.50,429.88 114.75,428.33 115.00,427.13 115.25,426.43 115.50,426.30 115.75,426.30 116.00,426.30 116.25,426.30 116.50,426.30 116.75,426.30 117.00,426.30 117.25,426.30 117.50,426.30 117.75,426.30 118.00,426.30 118.25,426.29 118.50,426.01 118.75,425.39 119.00,424.53 119.25,423.54 119.50,422.50 119.75,421.52 120.00,420.68 120.25,420.08 120.50,419.70 120.75,419.34 121.00,419.00 121.25,418.70 121.50,418.44 121.75,418.25 122.00,418.13 122.25,418.11 122.50,418.33 122.75,418.84 123.00,419.57 123.25,420.47 123.50,421.47 123.75,422.52 124.00,423.56 124.25,424.54 124.50,425.40 124.75,426.21 125.00,427.08 125.25,427.97 125.50,428.88 125.75,429.77 126.00,430.63 126.25,431.44 126.50,432.16 126.75,432.79 127.00,433.30 127.25,433.66 127.50,433.97 127.75,434.27 128.00,434.55 128.25,434.80 128.50,435.02 128.75,435.19 129.00,435.32 129.25,435.39 129.50,435.37 129.75,435.00 130.00,434.29 130.25,433.29 130.50,432.07 130.75,430.69 131.00,429.21 131.25,427.68 131.50,426.18 131.75,424.77 132.00,423.36 132.25,421.74 132.50,419.97 132.75,418.12 133.00,416.28 133.25,414.50 133.50,412.87 133.75,411.46 134.00,410.35 134.25,409.53 134.50,408.75 134.75,407.99 135.00,407.27 135.25,406.60 135.50,405.99 135.75,405.45 136.00,404.99 136.25,404.63 136.50,404.37 136.75,404.22 137.00,404.21 137.25,404.37 137.50,404.65 137.75,405.05 138.00,405.51 138.25,406.00 138.50,406.49 138.75,406.95 139.00,407.35 139.25,407.63 139.50,407.79 139.75,407.74 140.00,407.39 140.25,406.79 140.50,406.03 140.75,405.16 141.00,404.26 141.25,403.41 141.50,402.67 141.75,402.12 142.00,401.83 142.25,401.87 142.50,402.30 142.75,403.03 143.00,403.99 143.25,405.12 143.50,406.32 143.75,407.53 144.00,408.68 144.25,409.73 144.50,410.86 144.75,412.06 145.00,413.32 145.25,414.60 145.50,415.89 145.75,417.17 146.00,418.40 146.25,419.57 146.50,420.65 146.75,421.62 147.00,422.52 147.25,423.44 147.50,424.35 147.75,425.24 148.00,426.05 148.25,426.78 148.50,427.38 148.75,427.83 149.00,428.10 149.25,428.26 149.50,428.41 149.75,428.55 150.00,428.67 150.25,428.77 150.50,428.86 150.75,428.92 151.00,428.97 151.25,429.00 151.50,428.97 151.75,428.63 152.00,427.97 152.25,427.07 152.50,426.00 152.75,424.83 153.00,423.63 153.25,422.47 153.50,421.06 153.75,419.36 154.00,417.46 154.25,415.48 154.50,413.51 154.75,411.66 155.00,410.04 155.25,408.76 155.50,407.88 155.75,407.11 156.00,406.36 156.25,405.64 156.50,404.98 156.75,404.38 157.00,403.85 157.25,403.41 157.50,403.07 157.75,402.83 158.00,402.71 158.25,402.72 158.50,402.85 158.75,403.06 159.00,403.36 159.25,403.71 159.50,404.09 159.75,404.50 160.00,404.91 160.25,405.29 160.50,405.64 160.75,405.94 161.00,406.15 161.25,406.28 161.50,406.27 161.75,406.01 162.00,405.52 162.25,404.85 162.50,404.08 162.75,403.28 163.00,402.50 163.25,401.81 163.50,401.27 163.75,400.96 164.00,400.94 164.25,401.40 164.50,402.25 164.75,403.39 165.00,404.68 165.25,406.03 165.50,407.31 165.75,408.40 166.00,409.44 166.25,410.50 166.50,411.57 166.75,412.65 167.00,413.72 167.25,414.79 167.50,415.83 167.75,416.85 168.00,417.83 168.25,418.77 168.50,419.66 168.75,420.52 169.00,421.44 169.25,422.40 169.50,423.35 169.75,424.24 170.00,425.02 170.25,425.66 170.50,426.10 170.75,426.29 171.00,426.30 171.25,426.30 171.50,426.30 171.75,426.30 172.00,426.30 172.25,426.30 172.50,426.30 172.75,426.30 173.00,426.30 173.25,425.70 173.50,424.09 173.75,421.80 174.00,419.14 174.25,416.43 174.50,413.97 174.75,412.08 175.00,410.77 175.25,409.54 175.50,408.37 175.75,407.28 176.00,406.27 176.25,405.35 176.50,404.51 176.75,403.77 177.00,403.13 177.25,402.60 177.50,402.10 177.75,401.62 178.00,401.15 178.25,400.71 178.50,400.30 178.75,399.94 179.00,399.64 179.25,399.39 179.50,399.21 179.75,399.12 180.00,399.11 180.25,399.20 180.50,399.38 180.75,399.62 181.00,399.90 181.25,400.20 181.50,400.50 181.75,400.78 182.00,401.02 182.25,401.20 182.50,401.29 182.75,401.25 183.00,400.98 183.25,400.52 183.50,399.95 183.75,399.32 184.00,398.71 184.25,398.18 184.50,397.79 184.75,397.61 185.00,397.77 185.25,398.38 185.50,399.36 185.75,400.59 186.00,401.98 186.25,403.43 186.50,404.83 186.75,406.08 187.00,407.18 187.25,408.28 187.50,409.39 187.75,410.51 188.00,411.62 188.25,412.73 188.50,413.82 188.75,414.90 189.00,415.96 189.25,417.00 189.50,418.04 189.75,419.16 190.00,420.31 190.25,421.47 190.50,422.59 190.75,423.64 191.00,424.58 191.25,425.37 191.50,425.97 191.75,426.36 192.00,426.66 192.25,426.95 192.50,427.21 192.75,427.45 193.00,427.65 193.25,427.83 193.50,427.96 193.75,428.05 194.00,428.10 194.25,428.08 194.50,427.97 194.75,427.76 195.00,427.48 195.25,427.13 195.50,426.72 195.75,426.27 196.00,425.80 196.25,425.29 196.50,424.56 196.75,423.55 197.00,422.33 197.25,421.00 197.50,419.61 197.75,418.26 198.00,417.00 198.25,415.93 198.50,415.08 198.75,414.26 199.00,413.42 199.25,412.61 199.50,411.84 199.75,411.14 200.00,410.54 200.25,410.07 200.50,409.75 200.75,409.60 201.00,409.66 201.25,409.87 201.50,410.20 201.75,410.62 202.00,411.10 202.25,411.60 202.50,412.08 202.75,412.52 203.00,412.88 203.25,413.11 203.50,413.20 203.75,413.08 204.00,412.75 204.25,412.26 204.50,411.65 204.75,410.98 205.00,410.29 205.25,409.62 205.50,409.03 205.75,408.57 206.00,408.28 206.25,408.21 206.50,408.43 206.75,408.93 207.00,409.66 207.25,410.56 207.50,411.58 207.75,412.66 208.00,413.76 208.25,414.81 208.50,415.79 208.75,416.84 209.00,417.97 209.25,419.17 209.50,420.40 209.75,421.63 210.00,422.85 210.25,424.02 210.50,425.12 210.75,426.11 211.00,427.04 211.25,427.96 211.50,428.89 211.75,429.79 212.00,430.66 212.25,431.49 212.50,432.26 212.75,432.96 213.00,433.58 213.25,434.10 213.50,434.50 213.75,434.84 214.00,435.17 214.25,435.50 214.50,435.80 214.75,436.10 215.00,436.37 215.25,436.62 215.50,436.85 215.75,437.06 216.00,437.23 216.25,437.37 216.50,437.49 216.75,437.56 217.00,437.60 217.25,437.53 217.50,437.11 217.75,436.37 218.00,435.39 218.25,434.23 218.50,432.96 218.75,431.64 219.00,430.35 219.25,429.14 219.50,428.10 219.75,427.08 220.00,425.96 220.25,424.77 220.50,423.57 220.75,422.42 221.00,421.36 221.25,420.45 221.50,419.73 221.75,419.27 222.00,419.10 222.25,419.14 222.50,419.24 222.75,419.40 223.00,419.59 223.25,419.81 223.50,420.05 223.75,420.28 224.00,420.49 224.25,420.67 224.50,420.81 224.75,420.89 225.00,420.87 225.25,420.59 225.50,420.04 225.75,419.29 226.00,418.41 226.25,417.45 226.50,416.47 226.75,415.55 227.00,414.74 227.25,414.11 227.50,413.71 227.75,413.61 228.00,413.79 228.25,414.20 228.50,414.78 228.75,415.51 229.00,416.34 229.25,417.21 229.50,418.09 229.75,418.94 230.00,419.80 230.25,420.81 230.50,421.93 230.75,423.13 231.00,424.34 231.25,425.53 231.50,426.64 231.75,427.64 232.00,428.48 232.25,429.11 232.50,429.67 232.75,430.21 233.00,430.74 233.25,431.25 233.50,431.72 233.75,432.16 234.00,432.56 234.25,432.90 234.50,433.18 234.75,433.40 235.00,433.54 235.25,433.60 235.50,433.56 235.75,433.42 236.00,433.18 236.25,432.84 236.50,432.42 236.75,431.93 237.00,431.38 237.25,430.75 237.50,429.13 237.75,426.37 238.00,422.78 238.25,418.71 238.50,414.48 238.75,410.44 239.00,406.90 239.25,404.21 239.50,402.70 239.75,401.91 240.00,401.17 240.25,400.49 240.50,399.87 240.75,399.31 241.00,398.83 241.25,398.41 241.50,398.08 241.75,397.83 242.00,397.67 242.25,397.60 242.50,397.61 242.75,397.63 243.00,397.66 243.25,397.70 243.50,397.76 243.75,397.81 244.00,397.88 244.25,397.94 244.50,398.00 244.75,398.06 245.00,398.11 245.25,398.15 245.50,398.18 245.75,398.20 246.00,398.18 246.25,397.97 246.50,397.58 246.75,397.05 247.00,396.42 247.25,395.75 247.50,395.08 247.75,394.45 248.00,393.92 248.25,393.53 248.50,393.32 248.75,393.35 249.00,393.65 249.25,394.18 249.50,394.91 249.75,395.79 250.00,396.81 250.25,397.91 250.50,399.07 250.75,400.24 251.00,401.39 251.25,402.49 251.50,403.59 251.75,404.85 252.00,406.23 252.25,407.69 252.50,409.20 252.75,410.71 253.00,412.18 253.25,413.58 253.50,414.85 253.75,415.97 254.00,416.90 254.25,417.63 254.50,418.35 254.75,419.05 255.00,419.71 255.25,420.32 255.50,420.85 255.75,421.28 256.00,421.59 256.25,421.77 256.50,421.78 256.75,421.57 257.00,421.14 257.25,420.54 257.50,419.78 257.75,418.90 258.00,417.93 258.25,416.89 258.50,415.83 258.75,414.63 259.00,412.85 259.25,410.58 259.50,408.01 259.75,405.29 260.00,402.60 260.25,400.10 260.50,397.95 260.75,396.33 261.00,395.40 261.25,394.89 261.50,394.41 261.75,393.96 262.00,393.55 262.25,393.18 262.50,392.85 262.75,392.55 263.00,392.31 263.25,392.11 263.50,391.96 263.75,391.85 264.00,391.80 264.25,391.81 264.50,391.84 264.75,391.90 265.00,391.97 265.25,392.07 265.50,392.17 265.75,392.27 266.00,392.38 266.25,392.47 266.50,392.56 266.75,392.63 267.00,392.68 267.25,392.70 267.50,392.66 267.75,392.52 268.00,392.29 268.25,392.00 268.50,391.68 268.75,391.35 269.00,391.04 269.25,390.76 269.50,390.55 269.75,390.42 270.00,390.43 270.25,390.73 270.50,391.33 270.75,392.17 271.00,393.20 271.25,394.36 271.50,395.61 271.75,396.89 272.00,398.14 272.25,399.34 272.50,400.68 272.75,402.23 273.00,403.94 273.25,405.74 273.50,407.57 273.75,409.37 274.00,411.06 274.25,412.60 274.50,413.91 274.75,414.94 275.00,415.66 275.25,416.29 275.50,416.90 275.75,417.48 276.00,418.02 276.25,418.52 276.50,418.95 276.75,419.32 277.00,419.62 277.25,419.84 277.50,419.97 277.75,420.00 278.00,419.84 278.25,419.50 278.50,418.97 278.75,418.31 279.00,417.51 279.25,416.62 279.50,415.66 279.75,414.64 280.00,413.60 280.25,412.20 280.50,410.20 280.75,407.79 281.00,405.16 281.25,402.50 281.50,400.00 281.75,397.83 282.00,396.20 282.25,395.27 282.50,394.62 282.75,394.00 283.00,393.42 283.25,392.87 283.50,392.37 283.75,391.91 284.00,391.49 284.25,391.12 284.50,390.80 284.75,390.53 285.00,390.31 285.25,390.15 285.50,390.04 285.75,390.00 286.00,390.01 286.25,390.06 286.50,390.14 286.75,390.25 287.00,390.37 287.25,390.51 287.50,390.66 287.75,390.81 288.00,390.96 288.25,391.10 288.50,391.23 288.75,391.34 289.00,391.43 289.25,391.48 289.50,391.50 289.75,391.47 290.00,391.40 290.25,391.29 290.50,391.16 290.75,391.01 291.00,390.86 291.25,390.71 291.50,390.58 291.75,390.48 292.00,390.42 292.25,390.42 292.50,390.93 292.75,392.05 293.00,393.61 293.25,395.44 293.50,397.37 293.75,399.25 294.00,400.90 294.25,402.44 294.50,404.07 294.75,405.76 295.00,407.48 295.25,409.19 295.50,410.86 295.75,412.45 296.00,413.93 296.25,415.27 296.50,416.42 296.75,417.38 297.00,418.26 297.25,419.14 297.50,420.00 297.75,420.82 298.00,421.59 298.25,422.29 298.50,422.89 298.75,423.40 299.00,423.78 299.25,424.02 299.50,424.10 299.75,424.04 300.00,423.88 300.25,423.62 300.50,423.27 300.75,422.84 301.00,422.34 301.25,421.78 301.50,421.16 301.75,420.30 302.00,418.52 302.25,416.02 302.50,413.10 302.75,410.05 303.00,407.16 303.25,404.74 303.50,403.08 303.75,402.27 304.00,401.58 304.25,400.93 304.50,400.33 304.75,399.78 305.00,399.28 305.25,398.84 305.50,398.47 305.75,398.15 306.00,397.90 306.25,397.73 306.50,397.63 306.75,397.60 307.00,397.64 307.25,397.74 307.50,397.89 307.75,398.07 308.00,398.28 308.25,398.51 308.50,398.75 308.75,398.99 309.00,399.23 309.25,399.45 309.50,399.64 309.75,399.80 310.00,399.92 310.25,399.99 310.50,399.99 310.75,399.89 311.00,399.70 311.25,399.44 311.50,399.16 311.75,398.87 312.00,398.60 312.25,398.38 312.50,398.24 312.75,398.21 313.00,398.44 313.25,398.97 313.50,399.72 313.75,400.65 314.00,401.68 314.25,402.77 314.50,403.84 314.75,404.85 315.00,405.75 315.25,406.67 315.50,407.62 315.75,408.60 316.00,409.60 316.25,410.59 316.50,411.58 316.75,412.53 317.00,413.45 317.25,414.31 317.50,415.10 317.75,415.84 318.00,416.62 318.25,417.42 318.50,418.22 318.75,418.99 319.00,419.72 319.25,420.37 319.50,420.93 319.75,421.37 320.00,421.67 320.25,421.80 320.50,421.77 320.75,421.67 321.00,421.49 321.25,421.23 321.50,420.92 321.75,420.54 322.00,420.11 322.25,419.63 322.50,419.10 322.75,418.11 323.00,416.40 323.25,414.18 323.50,411.69 323.75,409.15 324.00,406.78 324.25,404.82 324.50,403.25 324.75,401.70 325.00,400.18 325.25,398.75 325.50,397.44 325.75,396.28 326.00,395.33 326.25,394.61 326.50,394.08 326.75,393.58 327.00,393.10 327.25,392.66 327.50,392.25 327.75,391.89 328.00,391.58 328.25,391.31 328.50,391.11 328.75,390.97 329.00,390.91 329.25,390.94 329.50,391.15 329.75,391.50 330.00,391.96 330.25,392.48 330.50,393.02 330.75,393.53 331.00,393.98 331.25,394.31 331.50,394.48 331.75,394.49 332.00,394.41 332.25,394.28 332.50,394.12 332.75,393.94 333.00,393.75 333.25,393.58 333.50,393.43 333.75,393.34 334.00,393.30 334.25,393.45 334.50,393.89 334.75,394.55 335.00,395.40 335.25,396.38 335.50,397.45 335.75,398.55 336.00,399.66 336.25,400.70 336.50,401.72 336.75,402.82 337.00,404.00 337.25,405.24 337.50,406.51 337.75,407.81 338.00,409.12 338.25,410.41 338.50,411.68 338.75,412.90 339.00,414.07 339.25,415.31 339.50,416.61 339.75,417.92 340.00,419.21 340.25,420.42 340.50,421.52 340.75,422.46 341.00,423.19 341.25,423.68 341.50,424.07 341.75,424.44 342.00,424.79 342.25,425.12 342.50,425.41 342.75,425.66 343.00,425.88 343.25,426.06 343.50,426.19 343.75,426.27 344.00,426.30 344.25,426.12 344.50,425.62 344.75,424.87 345.00,423.93 345.25,422.86 345.50,421.72 345.75,420.58 346.00,419.50 346.25,418.48 346.50,417.34 346.75,416.08 347.00,414.76 347.25,413.43 347.50,412.12 347.75,410.90 348.00,409.81 348.25,408.89 348.50,408.20 348.75,407.63 349.00,407.08 349.25,406.57 349.50,406.12 349.75,405.76 350.00,405.51 350.25,405.40 350.50,405.47 350.75,405.74 351.00,406.16 351.25,406.68 351.50,407.25 351.75,407.82 352.00,408.34 352.25,408.76 352.50,409.03 352.75,409.09 353.00,408.92 353.25,408.53 353.50,407.99 353.75,407.35 354.00,406.66 354.25,405.99 354.50,405.38 354.75,404.89 355.00,404.58 355.25,404.51 355.50,404.77 355.75,405.37 356.00,406.22 356.25,407.28 356.50,408.46 356.75,409.72 357.00,410.97 357.25,412.16 357.50,413.23 357.75,414.14 358.00,415.04 358.25,415.94 358.50,416.84 358.75,417.72 359.00,418.60 359.25,419.45 359.50,420.28 359.75,421.08 360.00,421.84 360.25,422.56 360.50,423.25 360.75,423.95 361.00,424.63 361.25,425.31 361.50,425.96 361.75,426.58 362.00,427.17 362.25,427.71 362.50,428.20 362.75,428.64 363.00,429.00 363.25,429.33 363.50,429.66 363.75,429.98 364.00,430.29 364.25,430.58 364.50,430.86 364.75,431.11 365.00,431.32 365.25,431.51 365.50,431.65 365.75,431.75 366.00,431.80 366.25,431.74 366.50,431.37 366.75,430.72 367.00,429.83 367.25,428.78 367.50,427.60 367.75,426.35 368.00,425.08 368.25,423.84 368.50,422.70 368.75,421.54 369.00,420.25 369.25,418.88 369.50,417.49 369.75,416.13 370.00,414.84 370.25,413.68 370.50,412.70 370.75,411.78 371.00,410.85 371.25,410.02 371.50,409.40 371.75,409.11 372.00,409.16 372.25,409.37 372.50,409.70 372.75,410.12 373.00,410.60 373.25,411.10 373.50,411.58 373.75,412.02 374.00,412.38 374.25,412.61 374.50,412.70 374.75,412.50 375.00,411.95 375.25,411.15 375.50,410.18 375.75,409.14 376.00,408.12 376.25,407.21 376.50,406.50 376.75,406.08 377.00,406.03 377.25,406.38 377.50,407.05 377.75,407.96 378.00,409.02 378.25,410.17 378.50,411.31 378.75,412.38 379.00,413.30 379.25,414.02 379.50,414.71 379.75,415.37 380.00,416.02 380.25,416.65 380.50,417.25 380.75,417.83 381.00,418.39 381.25,418.92 381.50,419.43 381.75,419.91 382.00,420.38 382.25,420.88 382.50,421.39 382.75,421.90 383.00,422.40 383.25,422.85 383.50,423.26 383.75,423.61 384.00,423.87 384.25,424.04 384.50,424.10 384.75,423.97 385.00,423.60 385.25,423.02 385.50,422.27 385.75,421.37 386.00,420.36 386.25,419.27 386.50,418.13 386.75,416.95 387.00,415.27 387.25,412.98 387.50,410.28 387.75,407.34 388.00,404.36 388.25,401.52 388.50,399.00 388.75,397.00 389.00,395.69 389.25,395.09 389.50,394.59 389.75,394.14 390.00,393.72 390.25,393.35 390.50,393.02 390.75,392.74 391.00,392.52 391.25,392.35 391.50,392.25 391.75,392.20 392.00,392.22 392.25,392.29 392.50,392.41 392.75,392.56 393.00,392.74 393.25,392.94 393.50,393.14 393.75,393.34 394.00,393.53 394.25,393.70 394.50,393.84 394.75,393.94 395.00,394.00 395.25,393.96 395.50,393.75 395.75,393.40 396.00,392.94 396.25,392.42 396.50,391.88 396.75,391.37 397.00,390.92 397.25,390.59 397.50,390.42 397.75,390.48 398.00,390.91 398.25,391.68 398.50,392.71 398.75,393.94 399.00,395.31 399.25,396.76 399.50,398.21 399.75,399.62 400.00,400.90 400.25,402.18 400.50,403.57 400.75,405.06 401.00,406.59 401.25,408.13 401.50,409.64 401.75,411.10 402.00,412.45 402.25,413.67 402.50,414.71 402.75,415.55 403.00,416.33 403.25,417.09 403.50,417.84 403.75,418.55 404.00,419.21 404.25,419.80 404.50,420.31 404.75,420.72 405.00,421.01 405.25,421.17 405.50,421.19 405.75,421.03 406.00,420.71 406.25,420.26 406.50,419.68 406.75,419.00 407.00,418.23 407.25,417.39 407.50,416.51 407.75,415.59 408.00,414.42 408.25,412.61 408.50,410.33 408.75,407.72 409.00,404.96 409.25,402.21 409.50,399.64 409.75,397.41 410.00,395.68 410.25,394.62 410.50,394.11 410.75,393.65 411.00,393.21 411.25,392.81 411.50,392.45 411.75,392.11 412.00,391.82 412.25,391.56 412.50,391.34 412.75,391.17 413.00,391.04 413.25,390.95 413.50,390.90 413.75,390.92 414.00,391.02 414.25,391.21 414.50,391.45 414.75,391.74 415.00,392.05 415.25,392.38 415.50,392.70 415.75,392.99 416.00,393.25 416.25,393.45 416.50,393.57 416.75,393.60 417.00,393.47 417.25,393.21 417.50,392.85 417.75,392.43 418.00,391.99 418.25,391.57 418.50,391.23 418.75,390.99 419.00,390.90 419.25,391.13 419.50,391.78 419.75,392.77 420.00,394.00 420.25,395.41 420.50,396.91 420.75,398.42 421.00,399.86 421.25,401.15 421.50,402.46 421.75,403.86 422.00,405.32 422.25,406.82 422.50,408.32 422.75,409.80 423.00,411.22 423.25,412.55 423.50,413.77 423.75,414.84 424.00,415.75 424.25,416.66 424.50,417.56 424.75,418.46 425.00,419.32 425.25,420.13 425.50,420.86 425.75,421.50 426.00,422.02 426.25,422.41 426.50,422.64 426.75,422.70 427.00,422.57 427.25,422.28 427.50,421.85 427.75,421.29 428.00,420.62 428.25,419.86 428.50,419.02 428.75,418.13 429.00,417.20 429.25,415.83 429.50,413.75 429.75,411.15 430.00,408.23 430.25,405.20 430.50,402.25 430.75,399.58 431.00,397.40 431.25,395.89 431.50,395.19 431.75,394.69 432.00,394.22 432.25,393.78 432.50,393.39 432.75,393.03 433.00,392.72 433.25,392.44 433.50,392.22 433.75,392.04 434.00,391.91 434.25,391.83 434.50,391.80 434.75,391.83 435.00,391.91 435.25,392.03 435.50,392.19 435.75,392.36 436.00,392.55 436.25,392.74 436.50,392.91 436.75,393.07 437.00,393.19 437.25,393.27 437.50,393.30 437.75,393.23 438.00,393.02 438.25,392.72 438.50,392.34 438.75,391.91 439.00,391.47 439.25,391.04 439.50,390.65 439.75,390.33 440.00,390.11 440.25,390.00 440.50,390.21 440.75,391.01 441.00,392.26 441.25,393.84 441.50,395.60 441.75,397.42 442.00,399.14 442.25,400.64 442.50,401.93 442.75,403.24 443.00,404.58 443.25,405.91 443.50,407.22 443.75,408.49 444.00,409.70 444.25,410.83 444.50,411.88 444.75,412.80 445.00,413.60 445.25,414.33 445.50,415.06 445.75,415.79 446.00,416.50 446.25,417.17 446.50,417.80 446.75,418.38 447.00,418.88 447.25,419.31 447.50,419.64 447.75,419.88 448.00,419.99 448.25,419.96 448.50,419.70 448.75,419.24 449.00,418.61 449.25,417.83 449.50,416.93 449.75,415.94 450.00,414.90 450.25,413.82 450.50,412.47 450.75,410.44 451.00,407.91 451.25,405.09 451.50,402.19 451.75,399.40 452.00,396.94 452.25,395.01 452.50,393.82 452.75,393.39 453.00,393.05 453.25,392.74 453.50,392.46 453.75,392.19 454.00,391.95 454.25,391.74 454.50,391.55 454.75,391.38 455.00,391.24 455.25,391.12 455.50,391.03 455.75,390.96 456.00,390.92 456.25,390.90 456.50,390.95 456.75,391.12 457.00,391.40 457.25,391.75 457.50,392.17 457.75,392.61 458.00,393.06 458.25,393.49 458.50,393.87 458.75,394.18 459.00,394.40 459.25,394.50 459.50,394.42 459.75,394.12 460.00,393.66 460.25,393.08 460.50,392.45 460.75,391.82 461.00,391.24 461.25,390.78 461.50,390.48 461.75,390.41 462.00,390.63 462.25,391.13 462.50,391.86 462.75,392.79 463.00,393.85 463.25,395.02 463.50,396.24 463.75,397.46 464.00,398.65 464.25,399.81 464.50,401.14 464.75,402.62 465.00,404.20 465.25,405.84 465.50,407.48 465.75,409.09 466.00,410.60 466.25,411.98 466.50,413.18 466.75,414.21 467.00,415.24 467.25,416.27 467.50,417.30 467.75,418.29 468.00,419.22 468.25,420.07 468.50,420.81 468.75,421.43 469.00,421.90 469.25,422.20 469.50,422.30 469.75,422.09 470.00,421.50 470.25,420.62 470.50,419.51 470.75,418.27 471.00,416.95 471.25,415.65 471.50,414.22 471.75,412.34 472.00,410.15 472.25,407.80 472.50,405.44 472.75,403.24 473.00,401.34 473.25,399.91 473.50,399.10 473.75,398.66 474.00,398.26 474.25,397.88 474.50,397.55 474.75,397.25 475.00,396.99 475.25,396.78 475.50,396.61 475.75,396.49 476.00,396.42 476.25,396.40 476.50,396.51 476.75,396.74 477.00,397.09 477.25,397.51 477.50,398.00 477.75,398.53 478.00,399.07 478.25,399.60 478.50,400.10 478.75,400.54 479.00,400.90 479.25,401.23 479.50,401.58 479.75,401.93 480.00,402.27 480.25,402.57 480.50,402.82 480.75,403.00 481.00,403.09 481.25,403.00 481.50,402.48 481.75,401.64 482.00,400.65 482.25,399.66 482.50,398.82 482.75,398.30 483.00,398.23 483.25,398.51 483.50,399.05 483.75,399.81 484.00,400.74 484.25,401.79 484.50,402.90 484.75,404.02 485.00,405.11 485.25,406.11 485.50,407.06 485.75,408.06 486.00,409.10 486.25,410.18 486.50,411.26 486.75,412.35 487.00,413.42 487.25,414.46 487.50,415.44 487.75,416.36 488.00,417.20 488.25,417.99 488.50,418.78 488.75,419.55 489.00,420.31 489.25,421.04 489.50,421.73 489.75,422.38 490.00,422.98 490.25,423.53 490.50,424.01 490.75,424.43 491.00,424.79 491.25,425.15 491.50,425.50 491.75,425.84 492.00,426.16 492.25,426.45 492.50,426.70 492.75,426.91 493.00,427.07 493.25,427.17 493.50,427.20 493.75,427.04 494.00,426.58 494.25,425.89 494.50,425.01 494.75,424.01 495.00,422.94 495.25,421.84 495.50,420.78 495.75,419.81 496.00,418.69 496.25,417.37 496.50,415.94 496.75,414.49 497.00,413.11 497.25,411.88 497.50,410.89 497.75,410.24 498.00,410.00 498.25,410.15 498.50,410.57 498.75,411.19 499.00,411.95 499.25,412.80 499.50,413.67 499.75,414.51 500.00,415.25 500.25,415.83 500.50,416.20 500.75,416.30 501.00,416.27 501.25,416.21 501.50,416.12 501.75,415.99 502.00,415.84 502.25,415.67 502.50,415.48 502.75,415.19 503.00,414.50 503.25,413.50 503.50,412.32 503.75,411.09 504.00,409.94 504.25,408.99 504.50,408.37 504.75,408.21 505.00,408.48 505.25,409.10 505.50,409.98 505.75,411.07 506.00,412.31 506.25,413.62 506.50,414.93 506.75,416.19 507.00,417.33 507.25,418.28 507.50,419.16 507.75,420.05 508.00,420.93 508.25,421.80 508.50,422.66 508.75,423.49 509.00,424.28 509.25,425.04 509.50,425.74 509.75,426.39 510.00,426.98 510.25,427.51 510.50,428.02 510.75,428.52 511.00,428.99 511.25,429.44 511.50,429.87 511.75,430.28 512.00,430.66 512.25,431.01 512.50,431.34 512.75,431.64 513.00,431.91 513.25,432.15 513.50,432.38 513.75,432.60 514.00,432.83 514.25,433.03 514.50,433.22 514.75,433.37 515.00,433.50 515.25,433.57 515.50,433.60 515.75,433.29 516.00,432.44 516.25,431.19 516.50,429.67 516.75,428.01 517.00,426.33 517.25,424.78 517.50,423.47 517.75,422.54 518.00,421.74 518.25,420.94 518.50,420.15 518.75,419.42 519.00,418.75 519.25,418.17 519.50,417.70 519.75,417.38 520.00,417.22 520.25,417.25 520.50,417.50 520.75,417.94 521.00,418.52 521.25,419.19 521.50,419.89 521.75,420.59 522.00,421.22 522.25,421.75 522.50,422.13 522.75,422.29 523.00,422.19 523.25,421.76 523.50,421.10 523.75,420.27 524.00,419.35 524.25,418.40 524.50,417.52 524.75,416.69 525.00,415.66 525.25,414.54 525.50,413.46 525.75,412.56 526.00,411.96 526.25,411.81 526.50,411.99 526.75,412.40 527.00,413.00 527.25,413.73 527.50,414.55 527.75,415.42 528.00,416.29 528.25,417.11 528.50,417.84 528.75,418.47 529.00,419.09 529.25,419.71 529.50,420.32 529.75,420.93 530.00,421.52 530.25,422.09 530.50,422.63 530.75,423.13 531.00,423.60 531.25,424.07 531.50,424.56 531.75,425.06 532.00,425.53 532.25,425.95 532.50,426.30 532.75,426.56 533.00,426.69 533.25,426.67 533.50,426.46 533.75,426.08 534.00,425.55 534.25,424.88 534.50,424.08 534.75,423.18 535.00,422.19 535.25,421.12 535.50,420.00 535.75,418.19 536.00,415.32 536.25,411.84 536.50,408.16 536.75,404.70 537.00,401.90 537.25,400.18 537.50,399.43 537.75,398.78 538.00,398.19 538.25,397.67 538.50,397.23 538.75,396.88 539.00,396.62 539.25,396.46 539.50,396.40 539.75,396.41 540.00,396.42 540.25,396.45 540.50,396.48 540.75,396.53 541.00,396.58 541.25,396.63 541.50,396.70 541.75,396.77 542.00,396.84 542.25,396.92 542.50,397.06 542.75,397.28 543.00,397.55 543.25,397.86 543.50,398.19 543.75,398.51 544.00,398.81 544.25,399.07 544.50,399.27 544.75,399.38 545.00,399.38 545.25,399.15 545.50,398.73 545.75,398.16 546.00,397.52 546.25,396.85 546.50,396.21 546.75,395.67 547.00,395.28 547.25,395.11 547.50,395.23 547.75,395.72 548.00,396.51 548.25,397.53 548.50,398.71 548.75,399.98 549.00,401.26 549.25,402.49 549.50,403.60 549.75,404.66 550.00,405.80 550.25,406.97 550.50,408.16 550.75,409.33 551.00,410.48 551.25,411.56 551.50,412.55 551.75,413.44 552.00,414.24 552.25,415.05 552.50,415.85 552.75,416.61 553.00,417.31 553.25,417.94 553.50,418.46 553.75,418.85 554.00,419.10 554.25,419.26 554.50,419.41 554.75,419.54 555.00,419.66 555.25,419.77 555.50,419.85 555.75,419.92 556.00,419.97 556.25,420.00 556.50,419.93 556.75,419.22 557.00,417.88 557.25,416.08 557.50,414.01 557.75,411.83 558.00,409.72 558.25,407.84 558.50,405.80 558.75,403.49 559.00,401.12 559.25,398.84 559.50,396.86 559.75,395.35 560.00,394.50 560.25,394.05 560.50,393.64 560.75,393.26 561.00,392.92 561.25,392.63 561.50,392.37 561.75,392.16 562.00,392.00 562.25,391.88 562.50,391.82 562.75,391.80 563.00,391.84 563.25,391.92 563.50,392.05 563.75,392.20 564.00,392.37 564.25,392.55 564.50,392.73 564.75,392.90 565.00,393.05 565.25,393.18 565.50,393.26 565.75,393.30 566.00,393.26 566.25,393.11 566.50,392.86 566.75,392.55 567.00,392.20 567.25,391.83 567.50,391.46 567.75,391.12 568.00,390.83 568.25,390.62 568.50,390.51 568.75,390.62 569.00,391.28 569.25,392.39 569.50,393.81 569.75,395.38 570.00,396.95 570.25,398.38 570.50,399.54 570.75,400.63 571.00,401.72 571.25,402.79 571.50,403.84 571.75,404.88 572.00,405.89 572.25,406.88 572.50,407.84 572.75,408.76 573.00,409.65 573.25,410.53 573.50,411.45 573.75,412.39 574.00,413.33 574.25,414.23 574.50,415.07 574.75,415.82 575.00,416.44 575.25,416.91 575.50,417.20 575.75,417.38 576.00,417.54 576.25,417.69 576.50,417.82 576.75,417.93 577.00,418.01 577.25,418.07 577.50,418.10 577.75,417.94 578.00,417.07 578.25,415.59 578.50,413.69 578.75,411.56 579.00,409.39 579.25,407.37 579.50,405.61 579.75,403.70 580.00,401.63 580.25,399.54 580.50,397.56 580.75,395.83 581.00,394.50 581.25,393.69 581.50,393.32 581.75,392.99 582.00,392.69 582.25,392.42 582.50,392.18 582.75,391.98 583.00,391.81 583.25,391.68 583.50,391.58 583.75,391.52 584.00,391.50 584.25,391.56 584.50,391.71 584.75,391.94 585.00,392.24 585.25,392.57 585.50,392.93 585.75,393.29 586.00,393.63 586.25,393.95 586.50,394.21 586.75,394.39 587.00,394.49 587.25,394.47 587.50,394.28 587.75,393.97 588.00,393.58 588.25,393.15 588.50,392.72 588.75,392.33 589.00,392.02 589.25,391.83 589.50,391.85 589.75,392.38 590.00,393.38 590.25,394.71 590.50,396.24 590.75,397.83 591.00,399.35 591.25,400.67 591.50,401.78 591.75,402.88 592.00,403.97 592.25,405.05 592.50,406.12 592.75,407.16 593.00,408.16 593.25,409.14 593.50,410.07 593.75,410.96 594.00,411.80 594.25,412.64 594.50,413.53 594.75,414.44 595.00,415.35 595.25,416.21 595.50,417.02 595.75,417.73 596.00,418.32 596.25,418.76 596.50,419.03 596.75,419.10 597.00,419.08 597.25,419.05 597.50,418.99 597.75,418.90 598.00,418.80 598.25,418.68 598.50,418.53 598.75,418.37 599.00,418.18 599.25,417.84 599.50,416.85 599.75,415.34 600.00,413.45 600.25,411.38 600.50,409.28 600.75,407.33 601.00,405.64 601.25,403.81 601.50,401.86 601.75,399.92 602.00,398.13 602.25,396.63 602.50,395.56 602.75,395.04 603.00,394.74 603.25,394.46 603.50,394.22 603.75,394.00 604.00,393.81 604.25,393.64 604.50,393.51 604.75,393.41 605.00,393.34 605.25,393.31 605.50,393.31 605.75,393.36 606.00,393.48 606.25,393.63 606.50,393.82 606.75,394.03 607.00,394.24 607.25,394.46 607.50,394.66 607.75,394.83 608.00,394.97 608.25,395.07 608.50,395.10 608.75,395.07 609.00,394.98 609.25,394.84 609.50,394.69 609.75,394.52 610.00,394.35 610.25,394.20 610.50,394.08 610.75,394.01 611.00,394.04 611.25,394.51 611.50,395.39 611.75,396.58 612.00,397.98 612.25,399.49 612.50,401.00 612.75,402.41 613.00,403.60 613.25,404.66 613.50,405.73 613.75,406.79 614.00,407.85 614.25,408.89 614.50,409.90 614.75,410.88 615.00,411.83 615.25,412.73 615.50,413.57 615.75,414.35 616.00,415.10 616.25,415.89 616.50,416.70 616.75,417.49 617.00,418.26 617.25,418.97 617.50,419.60 617.75,420.14 618.00,420.54 618.25,420.81 618.50,420.90 618.75,420.86 619.00,420.76 619.25,420.59 619.50,420.36 619.75,420.07 620.00,419.73 620.25,419.34 620.50,418.89 620.75,418.41 621.00,417.81 621.25,416.52 621.50,414.58 621.75,412.23 622.00,409.70 622.25,407.21 622.50,405.01 622.75,403.30 623.00,401.72 623.25,400.10 623.50,398.50 623.75,397.02 624.00,395.71 624.25,394.66 624.50,393.93 624.75,393.61 625.00,393.60 625.25,393.61 625.50,393.63 625.75,393.65 626.00,393.68 626.25,393.72 626.50,393.76 626.75,393.80 627.00,393.86 627.25,393.91 627.50,393.97 627.75,394.07 628.00,394.33 628.25,394.71 628.50,395.19 628.75,395.74 629.00,396.30 629.25,396.85 629.50,397.36 629.75,397.77 630.00,398.06 630.25,398.20 630.50,398.12 630.75,397.81 631.00,397.34 631.25,396.75 631.50,396.10 631.75,395.45 632.00,394.86 632.25,394.39 632.50,394.08 632.75,394.01 633.00,394.45 633.25,395.40 633.50,396.74 633.75,398.31 634.00,399.99 634.25,401.63 634.50,403.09 634.75,404.33 635.00,405.56 635.25,406.82 635.50,408.08 635.75,409.33 636.00,410.55 636.25,411.74 636.50,412.87 636.75,413.94 637.00,414.93 637.25,415.82 637.50,416.61 637.75,417.38 638.00,418.15 638.25,418.90 638.50,419.62 638.75,420.29 639.00,420.91 639.25,421.45 639.50,421.91 639.75,422.28 640.00,422.53 640.25,422.69 640.50,422.82 640.75,422.95 641.00,423.07 641.25,423.17 641.50,423.26 641.75,423.34 642.00,423.41 642.25,423.46 642.50,423.49 642.75,423.50 643.00,423.28 643.25,422.47 643.50,421.22 643.75,419.69 644.00,418.03 644.25,416.41 644.50,414.98 644.75,413.80 645.00,412.57 645.25,411.31 645.50,410.09 645.75,408.99 646.00,408.08 646.25,407.43 646.50,407.09 646.75,406.83 647.00,406.59 647.25,406.37 647.50,406.18 647.75,406.02 648.00,405.89 648.25,405.79 648.50,405.73 648.75,405.70 649.00,405.80 649.25,406.16 649.50,406.71 649.75,407.37 650.00,408.09 650.25,408.77 650.50,409.35 650.75,409.75 651.00,409.90 651.25,409.78 651.50,409.46 651.75,409.00 652.00,408.45 652.25,407.87 652.50,407.30 652.75,406.82 653.00,406.47 653.25,406.31 653.50,406.44 653.75,406.94 654.00,407.76 654.25,408.79 654.50,409.96 654.75,411.20 655.00,412.43 655.25,413.55 655.50,414.50 655.75,415.33 656.00,416.14 656.25,416.94 656.50,417.73 656.75,418.50 657.00,419.25 657.25,419.98 657.50,420.70 657.75,421.40 658.00,422.07 658.25,422.73 658.50,423.40 658.75,424.08 659.00,424.77 659.25,425.45 659.50,426.12 659.75,426.75 660.00,427.33 660.25,427.87 660.50,428.33 660.75,428.71 661.00,429.00 661.25,429.24 661.50,429.47 661.75,429.68 662.00,429.89 662.25,430.08 662.50,430.26 662.75,430.41 663.00,430.55 663.25,430.65 663.50,430.73 663.75,430.78 664.00,430.80 664.25,430.60 664.50,430.05 664.75,429.21 665.00,428.16 665.25,426.98 665.50,425.72 665.75,424.46 666.00,423.27 666.25,422.23 666.50,421.37 666.75,420.49 667.00,419.56 667.25,418.62 667.50,417.69 667.75,416.81 668.00,416.00 668.25,415.29 668.50,414.72 668.75,414.32 669.00,414.12 669.25,414.13 669.50,414.28 669.75,414.56 670.00,414.92 670.25,415.34 670.50,415.80 670.75,416.27 671.00,416.72 671.25,417.13 671.50,417.52 671.75,417.99 672.00,418.49 672.25,418.97 672.50,419.39 672.75,419.71 673.00,419.88 673.25,419.83 673.50,419.43 673.75,418.75 674.00,417.88 674.25,416.90 674.50,415.91 674.75,414.98 675.00,414.22 675.25,413.69 675.50,413.50 675.75,413.59 676.00,413.85 676.25,414.24 676.50,414.74 676.75,415.33 677.00,415.97 677.25,416.64 677.50,417.32 677.75,417.97 678.00,418.65 678.25,419.46 678.50,420.37 678.75,421.33 679.00,422.29 679.25,423.22 679.50,424.05 679.75,424.76 680.00,425.30 680.25,425.73 680.50,426.16 680.75,426.56 681.00,426.94 681.25,427.28 681.50,427.58 681.75,427.82 682.00,427.99 682.25,428.08 682.50,428.08 682.75,427.81 683.00,427.28 683.25,426.52 683.50,425.56 683.75,424.44 684.00,423.20 684.25,421.86 684.50,420.47 684.75,418.84 685.00,416.28 685.25,413.06 685.50,409.53 685.75,406.06 686.00,403.01 686.25,400.74 686.50,399.50 686.75,398.54 687.00,397.64 687.25,396.81 687.50,396.06 687.75,395.39 688.00,394.81 688.25,394.34 688.50,393.98 688.75,393.73 689.00,393.61 689.25,393.60 689.50,393.60 689.75,393.60 690.00,393.60 690.25,393.60 690.50,393.60 690.75,393.60 691.00,393.60 691.25,393.60 691.50,393.60 691.75,393.60 692.00,393.60 692.25,393.60 692.50,393.60 692.75,393.60 693.00,393.54 693.25,393.40 693.50,393.20 693.75,392.96 694.00,392.69 694.25,392.40 694.50,392.11 694.75,391.84 695.00,391.60 695.25,391.40 695.50,391.26 695.75,391.20 696.00,391.37 696.25,391.99 696.50,392.97 696.75,394.21 697.00,395.61 697.25,397.05 697.50,398.45 697.75,399.68 698.00,400.76 698.25,401.85 698.50,402.95 698.75,404.04 699.00,405.13 699.25,406.21 699.50,407.27 699.75,408.30 700.00,409.30 700.25,410.25 700.50,411.16 700.75,412.10 701.00,413.06 701.25,414.01 701.50,414.94 701.75,415.80 702.00,416.58 702.25,417.25 702.50,417.79 702.75,418.16 703.00,418.48 703.25,418.78 703.50,419.06 703.75,419.31 704.00,419.52 704.25,419.70 704.50,419.82 704.75,419.89 705.00,419.84 705.25,419.20 705.50,417.97 705.75,416.31 706.00,414.36 706.25,412.26 706.50,410.17 706.75,408.23 707.00,406.52 707.25,404.62 707.50,402.55 707.75,400.47 708.00,398.55 708.25,396.95 708.50,395.83 708.75,395.35 709.00,395.12 709.25,394.91 709.50,394.73 709.75,394.57 710.00,394.43 710.25,394.32 710.50,394.23 710.75,394.16 711.00,394.12 711.25,394.10 711.50,394.13 711.75,394.23 712.00,394.40 712.25,394.62 712.50,394.89 712.75,395.19 713.00,395.51 713.25,395.84 713.50,396.17 713.75,396.53 714.00,397.02 714.25,397.62 714.50,398.24 714.75,398.81 715.00,399.27 715.25,399.55 715.50,399.57 715.75,399.31 716.00,398.80 716.25,398.13 716.50,397.37 716.75,396.57 717.00,395.82 717.25,395.18 717.50,394.72 717.75,394.51 718.00,394.66 718.25,395.25 718.50,396.19 718.75,397.36 719.00,398.66 719.25,399.99 719.50,401.24 719.75,402.39 720.00,403.62 720.25,404.94 720.50,406.30 720.75,407.66 721.00,409.00 721.25,410.26 721.50,411.41 721.75,412.42 722.00,413.32 722.25,414.25 722.50,415.17 722.75,416.09 723.00,416.95 723.25,417.75 723.50,418.46 723.75,419.05 724.00,419.51 724.25,419.80 724.50,419.90 724.75,419.89 725.00,419.85 725.25,419.79 725.50,419.70 725.75,419.60 726.00,419.47 726.25,419.32 726.50,419.15 726.75,418.95 727.00,418.34 727.25,417.24 727.50,415.77 727.75,414.04 728.00,412.17 728.25,410.28 728.50,408.48 728.75,406.89 729.00,405.22 729.25,403.37 729.50,401.50 729.75,399.73 730.00,398.18 730.25,397.00 730.50,396.30 730.75,395.91 731.00,395.54 731.25,395.20 731.50,394.89 731.75,394.61 732.00,394.36 732.25,394.15 732.50,393.97 732.75,393.82 733.00,393.71 733.25,393.64 733.50,393.60 733.75,393.63 734.00,393.81 734.25,394.13 734.50,394.53 734.75,395.00 735.00,395.50 735.25,395.99 735.50,396.44 735.75,396.81 736.00,397.08 736.25,397.20 736.50,397.12 736.75,396.81 737.00,396.34 737.25,395.77 737.50,395.16 737.75,394.57 738.00,394.07 738.25,393.73 738.50,393.60 738.75,393.83 739.00,394.45 739.25,395.38 739.50,396.54 739.75,397.83 740.00,399.18 740.25,400.50 740.50,401.70 740.75,402.87 741.00,404.12 741.25,405.43 741.50,406.77 741.75,408.11 742.00,409.41 742.25,410.64 742.50,411.78 742.75,412.79 743.00,413.80 743.25,414.82 743.50,415.84 743.75,416.81 744.00,417.71 744.25,418.50 744.50,419.15 744.75,419.63 745.00,419.90 745.25,420.05 745.50,420.19 745.75,420.32 746.00,420.44 746.25,420.54 746.50,420.62 746.75,420.69 747.00,420.75 747.25,420.78 747.50,420.80 747.75,420.64 748.00,419.75 748.25,418.24 748.50,416.32 748.75,414.18 749.00,412.01 749.25,410.03 749.50,408.35 749.75,406.57 750.00,404.67 750.25,402.79 750.50,401.06 750.75,399.60 751.00,398.56 751.25,398.04 751.50,397.73 751.75,397.44 752.00,397.18 752.25,396.94 752.50,396.72 752.75,396.53 753.00,396.37 753.25,396.22 753.50,396.11 753.75,396.02 754.00,395.95 754.25,395.91 754.50,395.90 754.75,395.94 755.00,396.06 755.25,396.24 755.50,396.46 755.75,396.70 756.00,396.95 756.25,397.19 756.50,397.40 756.75,397.57 757.00,397.67 757.25,397.70 757.50,397.58 757.75,397.31 758.00,396.94 758.25,396.49 758.50,396.00 758.75,395.50 759.00,395.03 759.25,394.63 759.50,394.31 759.75,394.13 760.00,394.15 760.25,394.65 760.50,395.60 760.75,396.83 761.00,398.21 761.25,399.61 761.50,400.88 761.75,401.88 762.00,402.68 762.25,403.38 762.50,404.01 762.75,404.63 763.00,405.24 763.25,405.91 763.50,406.66 763.75,407.52 764.00,408.54 764.25,409.84 764.50,411.69 764.75,413.92 765.00,416.30 765.00,490.6"/>
<polyline fill="none" stroke="#f41010" stroke-width="2" points="105,73.8 255,73.8 255,73.5 487,73.5 487,73.1 743.5,73.1 743.5,72.7 765.3,72.7"/>
<line x1="104.6" x2="104.6" y1="66.3" y2="556.7" stroke="#cfcfcf" stroke-width="1"/>
<line x1="765.6" x2="765.6" y1="490.6" y2="553.8" stroke="#d6d6d6" stroke-width="1"/>
<line x1="101.3" x2="105" y1="490.60" y2="490.60" stroke="#cfcfcf" stroke-width="1"/>
<line x1="101.3" x2="105" y1="424.27" y2="424.27" stroke="#cfcfcf" stroke-width="1"/>
<line x1="101.3" x2="105" y1="357.94" y2="357.94" stroke="#cfcfcf" stroke-width="1"/>
<line x1="101.3" x2="105" y1="291.61" y2="291.61" stroke="#cfcfcf" stroke-width="1"/>
<line x1="101.3" x2="105" y1="225.28" y2="225.28" stroke="#cfcfcf" stroke-width="1"/>
<line x1="101.3" x2="105" y1="158.95" y2="158.95" stroke="#cfcfcf" stroke-width="1"/>
<line x1="101.3" x2="105" y1="92.62" y2="92.62" stroke="#cfcfcf" stroke-width="1"/>
<text y="495.15" font-size="12.7"><tspan x="61.39" textLength="7.14" lengthAdjust="spacingAndGlyphs">0</tspan><tspan x="67.99" textLength="24.02" lengthAdjust="spacingAndGlyphs">MW</tspan></text>
<text y="428.82" font-size="12.7"><tspan x="30.31" textLength="38.31" lengthAdjust="spacingAndGlyphs">50.000</tspan><tspan x="67.97" textLength="24.54" lengthAdjust="spacingAndGlyphs">MW</tspan></text>
<text y="362.49" font-size="12.7"><tspan x="23.62" textLength="44.99" lengthAdjust="spacingAndGlyphs">100.000</tspan><tspan x="67.97" textLength="24.54" lengthAdjust="spacingAndGlyphs">MW</tspan></text>
<text y="296.16" font-size="12.7"><tspan x="23.62" textLength="44.99" lengthAdjust="spacingAndGlyphs">150.000</tspan><tspan x="67.97" textLength="24.54" lengthAdjust="spacingAndGlyphs">MW</tspan></text>
<text y="229.83" font-size="12.7"><tspan x="23.46" textLength="45.15" lengthAdjust="spacingAndGlyphs">200.000</tspan><tspan x="67.97" textLength="24.54" lengthAdjust="spacingAndGlyphs">MW</tspan></text>
<text y="163.50" font-size="12.7"><tspan x="23.46" textLength="45.15" lengthAdjust="spacingAndGlyphs">250.000</tspan><tspan x="67.97" textLength="24.54" lengthAdjust="spacingAndGlyphs">MW</tspan></text>
<text y="97.17" font-size="12.7"><tspan x="23.61" textLength="44.99" lengthAdjust="spacingAndGlyphs">300.000</tspan><tspan x="67.97" textLength="24.54" lengthAdjust="spacingAndGlyphs">MW</tspan></text>
<text transform="translate(14.9 388.9) rotate(-90)" font-size="12.6" stroke="#000" stroke-width="0.15"><tspan x="-0.67" textLength="62.41" lengthAdjust="spacingAndGlyphs">[Verbrauch</tspan> <tspan x="64.27" textLength="21.60" lengthAdjust="spacingAndGlyphs">und</tspan> <tspan x="89.64" textLength="50.99" lengthAdjust="spacingAndGlyphs">Leistung]</tspan> <tspan x="144.27" textLength="6.17" lengthAdjust="spacingAndGlyphs">=</tspan> &#160;<tspan x="157.31" textLength="23.71" lengthAdjust="spacingAndGlyphs">MW</tspan></text>
<text transform="translate(109.55 499.1) rotate(-90)" font-size="10.6" stroke="#000" stroke-width="0.1"><tspan x="-24.71" textLength="10.56" lengthAdjust="spacingAndGlyphs">Di</tspan> <tspan x="-11.94" textLength="12.25" lengthAdjust="spacingAndGlyphs">01</tspan></text>
<text transform="translate(130.85 499.1) rotate(-90)" font-size="10.6" stroke="#000" stroke-width="0.1"><tspan x="-27.94" textLength="13.93" lengthAdjust="spacingAndGlyphs">Mi</tspan> <tspan x="-11.95" textLength="12.39" lengthAdjust="spacingAndGlyphs">02</tspan></text>
<text transform="translate(152.15 499.1) rotate(-90)" font-size="10.6" stroke="#000" stroke-width="0.1"><tspan x="-28.40" textLength="13.91" lengthAdjust="spacingAndGlyphs">Do</tspan> <tspan x="-11.94" textLength="12.35" lengthAdjust="spacingAndGlyphs">03</tspan></text>
<text transform="translate(173.45 499.1) rotate(-90)" font-size="10.6" stroke="#000" stroke-width="0.1"><tspan x="-24.45" textLength="9.69" lengthAdjust="spacingAndGlyphs">Fr</tspan> <tspan x="-11.93" textLength="11.99" lengthAdjust="spacingAndGlyphs">04</tspan></text>
<text transform="translate(194.75 499.1) rotate(-90)" font-size="10.6" stroke="#000" stroke-width="0.1"><tspan x="-26.17" textLength="11.20" lengthAdjust="spacingAndGlyphs">Sa</tspan> <tspan x="-11.94" textLength="12.25" lengthAdjust="spacingAndGlyphs">05</tspan></text>
<text transform="translate(216.05 499.1) rotate(-90)" font-size="10.6" stroke="#000" stroke-width="0.1"><tspan x="-26.57" textLength="12.04" lengthAdjust="spacingAndGlyphs">So</tspan> <tspan x="-11.94" textLength="12.35" lengthAdjust="spacingAndGlyphs">06</tspan></text>
<text transform="translate(237.35 499.1) rotate(-90)" font-size="10.6" stroke="#000" stroke-width="0.1"><tspan x="-31.60" textLength="17.16" lengthAdjust="spacingAndGlyphs">Mo</tspan> <tspan x="-11.95" textLength="12.44" lengthAdjust="spacingAndGlyphs">07</tspan></text>
<text transform="translate(258.65 499.1) rotate(-90)" font-size="10.6" stroke="#000" stroke-width="0.1"><tspan x="-24.71" textLength="10.56" lengthAdjust="spacingAndGlyphs">Di</tspan> <tspan x="-11.94" textLength="12.29" lengthAdjust="spacingAndGlyphs">08</tspan></text>
<text transform="translate(279.95 499.1) rotate(-90)" font-size="10.6" stroke="#000" stroke-width="0.1"><tspan x="-27.94" textLength="13.93" lengthAdjust="spacingAndGlyphs">Mi</tspan> <tspan x="-11.94" textLength="12.36" lengthAdjust="spacingAndGlyphs">09</tspan></text>
<text transform="translate(301.25 499.1) rotate(-90)" font-size="10.6" stroke="#000" stroke-width="0.1"><tspan x="-28.40" textLength="13.91" lengthAdjust="spacingAndGlyphs">Do</tspan> <tspan x="-12.22" textLength="12.69" lengthAdjust="spacingAndGlyphs">10</tspan></text>
<text transform="translate(322.55 499.1) rotate(-90)" font-size="10.6" stroke="#000" stroke-width="0.1"><tspan x="-24.45" textLength="9.69" lengthAdjust="spacingAndGlyphs">Fr</tspan> <tspan x="-12.25" textLength="12.59" lengthAdjust="spacingAndGlyphs">11</tspan></text>
<text transform="translate(343.85 499.1) rotate(-90)" font-size="10.6" stroke="#000" stroke-width="0.1"><tspan x="-26.17" textLength="11.20" lengthAdjust="spacingAndGlyphs">Sa</tspan> <tspan x="-12.22" textLength="12.68" lengthAdjust="spacingAndGlyphs">12</tspan></text>
<text transform="translate(365.15 499.1) rotate(-90)" font-size="10.6" stroke="#000" stroke-width="0.1"><tspan x="-26.57" textLength="12.04" lengthAdjust="spacingAndGlyphs">So</tspan> <tspan x="-12.22" textLength="12.63" lengthAdjust="spacingAndGlyphs">13</tspan></text>
<text transform="translate(386.45 499.1) rotate(-90)" font-size="10.6" stroke="#000" stroke-width="0.1"><tspan x="-31.60" textLength="17.16" lengthAdjust="spacingAndGlyphs">Mo</tspan> <tspan x="-12.19" textLength="12.25" lengthAdjust="spacingAndGlyphs">14</tspan></text>
<text transform="translate(407.75 499.1) rotate(-90)" font-size="10.6" stroke="#000" stroke-width="0.1"><tspan x="-24.71" textLength="10.56" lengthAdjust="spacingAndGlyphs">Di</tspan> <tspan x="-12.21" textLength="12.53" lengthAdjust="spacingAndGlyphs">15</tspan></text>
<text transform="translate(429.05 499.1) rotate(-90)" font-size="10.6" stroke="#000" stroke-width="0.1"><tspan x="-27.94" textLength="13.93" lengthAdjust="spacingAndGlyphs">Mi</tspan> <tspan x="-12.22" textLength="12.63" lengthAdjust="spacingAndGlyphs">16</tspan></text>
<text transform="translate(450.35 499.1) rotate(-90)" font-size="10.6" stroke="#000" stroke-width="0.1"><tspan x="-28.40" textLength="13.91" lengthAdjust="spacingAndGlyphs">Do</tspan> <tspan x="-12.22" textLength="12.73" lengthAdjust="spacingAndGlyphs">17</tspan></text>
<text transform="translate(471.65 499.1) rotate(-90)" font-size="10.6" stroke="#000" stroke-width="0.1"><tspan x="-24.45" textLength="9.69" lengthAdjust="spacingAndGlyphs">Fr</tspan> <tspan x="-12.21" textLength="12.57" lengthAdjust="spacingAndGlyphs">18</tspan></text>
<text transform="translate(492.95 499.1) rotate(-90)" font-size="10.6" stroke="#000" stroke-width="0.1"><tspan x="-26.17" textLength="11.20" lengthAdjust="spacingAndGlyphs">Sa</tspan> <tspan x="-12.22" textLength="12.64" lengthAdjust="spacingAndGlyphs">19</tspan></text>
<text transform="translate(514.25 499.1) rotate(-90)" font-size="10.6" stroke="#000" stroke-width="0.1"><tspan x="-26.57" textLength="12.04" lengthAdjust="spacingAndGlyphs">So</tspan> <tspan x="-11.89" textLength="12.35" lengthAdjust="spacingAndGlyphs">20</tspan></text>
<text transform="translate(535.55 499.1) rotate(-90)" font-size="10.6" stroke="#000" stroke-width="0.1"><tspan x="-31.60" textLength="17.16" lengthAdjust="spacingAndGlyphs">Mo</tspan> <tspan x="-11.88" textLength="12.19" lengthAdjust="spacingAndGlyphs">21</tspan></text>
<text transform="translate(556.85 499.1) rotate(-90)" font-size="10.6" stroke="#000" stroke-width="0.1"><tspan x="-24.71" textLength="10.56" lengthAdjust="spacingAndGlyphs">Di</tspan> <tspan x="-11.89" textLength="12.34" lengthAdjust="spacingAndGlyphs">22</tspan></text>
<text transform="translate(578.15 499.1) rotate(-90)" font-size="10.6" stroke="#000" stroke-width="0.1"><tspan x="-27.94" textLength="13.93" lengthAdjust="spacingAndGlyphs">Mi</tspan> <tspan x="-11.89" textLength="12.29" lengthAdjust="spacingAndGlyphs">23</tspan></text>
<text transform="translate(599.45 499.1) rotate(-90)" font-size="10.6" stroke="#000" stroke-width="0.1"><tspan x="-28.40" textLength="13.91" lengthAdjust="spacingAndGlyphs">Do</tspan> <tspan x="-11.88" textLength="11.93" lengthAdjust="spacingAndGlyphs">24</tspan></text>
<text transform="translate(620.75 499.1) rotate(-90)" font-size="10.6" stroke="#000" stroke-width="0.1"><tspan x="-24.45" textLength="9.69" lengthAdjust="spacingAndGlyphs">Fr</tspan> <tspan x="-11.88" textLength="12.19" lengthAdjust="spacingAndGlyphs">25</tspan></text>
<text transform="translate(642.05 499.1) rotate(-90)" font-size="10.6" stroke="#000" stroke-width="0.1"><tspan x="-26.17" textLength="11.20" lengthAdjust="spacingAndGlyphs">Sa</tspan> <tspan x="-11.89" textLength="12.29" lengthAdjust="spacingAndGlyphs">26</tspan></text>
<text transform="translate(663.35 499.1) rotate(-90)" font-size="10.6" stroke="#000" stroke-width="0.1"><tspan x="-26.57" textLength="12.04" lengthAdjust="spacingAndGlyphs">So</tspan> <tspan x="-11.89" textLength="12.38" lengthAdjust="spacingAndGlyphs">27</tspan></text>
<text transform="translate(684.65 499.1) rotate(-90)" font-size="10.6" stroke="#000" stroke-width="0.1"><tspan x="-31.60" textLength="17.16" lengthAdjust="spacingAndGlyphs">Mo</tspan> <tspan x="-11.88" textLength="12.23" lengthAdjust="spacingAndGlyphs">28</tspan></text>
<text transform="translate(705.95 499.1) rotate(-90)" font-size="10.6" stroke="#000" stroke-width="0.1"><tspan x="-24.71" textLength="10.56" lengthAdjust="spacingAndGlyphs">Di</tspan> <tspan x="-11.89" textLength="12.30" lengthAdjust="spacingAndGlyphs">29</tspan></text>
<text transform="translate(727.25 499.1) rotate(-90)" font-size="10.6" stroke="#000" stroke-width="0.1"><tspan x="-27.94" textLength="13.93" lengthAdjust="spacingAndGlyphs">Mi</tspan> <tspan x="-11.75" textLength="12.21" lengthAdjust="spacingAndGlyphs">30</tspan></text>
<text transform="translate(748.55 499.1) rotate(-90)" font-size="10.6" stroke="#000" stroke-width="0.1"><tspan x="-28.40" textLength="13.91" lengthAdjust="spacingAndGlyphs">Do</tspan> <tspan x="-11.75" textLength="12.06" lengthAdjust="spacingAndGlyphs">31</tspan></text>
<text y="551.0" font-size="10.7" stroke="#000" stroke-width="0.15"><tspan x="412.94" textLength="44.45" lengthAdjust="spacingAndGlyphs">Jan.2019</tspan></text>
<text y="559.9" font-size="8.4" stroke="#000" stroke-width="0.15"><tspan x="5.09" textLength="45.43" lengthAdjust="spacingAndGlyphs">Datenquelle:</tspan> &#160;<tspan x="54.05" textLength="24.78" lengthAdjust="spacingAndGlyphs">Entso-e</tspan> &#160;<tspan x="84.33" textLength="3.03" lengthAdjust="spacingAndGlyphs">/</tspan> <tspan x="88.79" textLength="48.22" lengthAdjust="spacingAndGlyphs">Netzbetreiber</tspan></text>
<text y="559.9" font-size="8.4" stroke="#000" stroke-width="0.15"><tspan x="337.73" textLength="36.23" lengthAdjust="spacingAndGlyphs">Auflösung:</tspan> <tspan x="376.55" textLength="72.61" lengthAdjust="spacingAndGlyphs">Viertelstundenwerte</tspan></text>
<text y="559.9" font-size="8.4" stroke="#000" stroke-width="0.15"><tspan x="668.42" textLength="41.97" lengthAdjust="spacingAndGlyphs">Darstellung:</tspan> <tspan x="712.41" textLength="14.17" lengthAdjust="spacingAndGlyphs">Rolf</tspan> <tspan x="728.30" textLength="29.10" lengthAdjust="spacingAndGlyphs">Schuster</tspan></text>
<rect x="44.1" y="14.7" width="10" height="9.7" fill="#c2edd7"/>
<text y="24.5" font-size="16.4"><tspan x="58.58" textLength="32.92" lengthAdjust="spacingAndGlyphs">inst.</tspan> <tspan x="95.78" textLength="63.12" lengthAdjust="spacingAndGlyphs">Leistung</tspan> <tspan x="162.25" textLength="16.88" lengthAdjust="spacingAndGlyphs">3x</tspan> <tspan x="184.68" textLength="38.86" lengthAdjust="spacingAndGlyphs">Wind</tspan> <tspan x="228.52" textLength="9.44" lengthAdjust="spacingAndGlyphs">+</tspan> <tspan x="241.74" textLength="17.29" lengthAdjust="spacingAndGlyphs">3x</tspan> <tspan x="263.56" textLength="37.76" lengthAdjust="spacingAndGlyphs">Solar</tspan></text>
<rect x="340.4" y="14.6" width="10.1" height="9.8" fill="#ff9a0a"/>
<text y="24.5" font-size="16.4"><tspan x="355.25" textLength="16.98" lengthAdjust="spacingAndGlyphs">3x</tspan> <tspan x="377.18" textLength="38.66" lengthAdjust="spacingAndGlyphs">Wind</tspan> <tspan x="420.82" textLength="9.44" lengthAdjust="spacingAndGlyphs">+</tspan> <tspan x="434.25" textLength="17.08" lengthAdjust="spacingAndGlyphs">3x</tspan> <tspan x="455.86" textLength="37.87" lengthAdjust="spacingAndGlyphs">Solar</tspan></text>
<rect x="533.1" y="14.8" width="9.9" height="9.6" fill="#3333d6"/>
<text y="24.5" font-size="16.4"><tspan x="547.93" textLength="57.75" lengthAdjust="spacingAndGlyphs">3xWind</tspan></text>
<rect x="644.45" y="14.45" width="10.1" height="9.8" fill="rgb(157,48,0)" fill-opacity="0.444" stroke="#a93c0a" stroke-width="1.3"/>
<text y="24.5" font-size="16.4"><tspan x="659.89" textLength="78.10" lengthAdjust="spacingAndGlyphs">Verbrauch</tspan></text>
</svg></body></html>
